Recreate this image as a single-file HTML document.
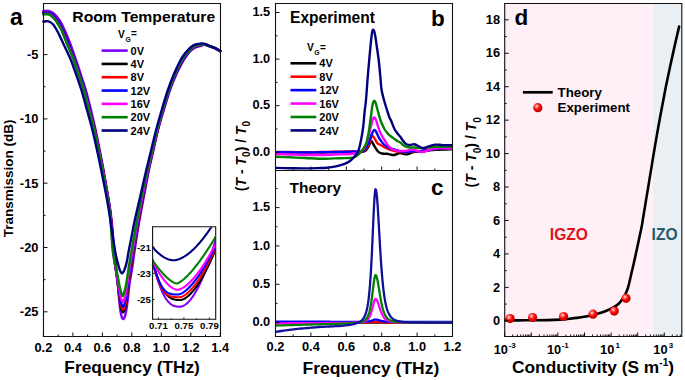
<!DOCTYPE html>
<html><head><meta charset="utf-8"><style>
html,body{margin:0;padding:0;background:#fff;width:685px;height:380px;overflow:hidden}
svg{display:block}
text{font-family:"Liberation Sans",sans-serif;font-weight:bold}
</style></head><body>
<svg width="685" height="380" viewBox="0 0 685 380">
<rect width="685" height="380" fill="#fff"/>
<g>
<path d="M43.4,11.2 C43.83,11.13 44.9,10.77 46,10.8 C47.1,10.83 48.5,10.78 50,11.4 C51.5,12.02 53.33,12.9 55,14.5 C56.67,16.1 58.4,18.42 60,21 C61.6,23.58 62.93,26.33 64.6,30 C66.27,33.67 68.1,38 70,43 C71.9,48 74.17,54.67 76,60 C77.83,65.33 79.37,70 81,75 C82.63,80 84.13,84.17 85.8,90 C87.47,95.83 89.37,103.33 91,110 C92.63,116.67 94.15,123.33 95.6,130 C97.05,136.67 98.38,143.33 99.7,150 C101.02,156.67 102.28,163.33 103.5,170 C104.72,176.67 105.87,183.33 107,190 C108.13,196.67 109.38,203.33 110.3,210 C111.22,216.67 111.85,223.33 112.5,230 C113.15,236.67 113.65,244.17 114.2,250 C114.75,255.83 115.35,260.83 115.8,265 C116.25,269.17 116.57,272 116.9,275 C117.23,278 117.46,279.33 117.8,283 C118.14,286.67 118.56,292.73 118.94,297 C119.32,301.27 119.71,305.57 120.1,308.6 C120.48,311.63 120.87,313.58 121.25,315.2 C121.63,316.82 122.03,317.68 122.4,318.3 C122.78,318.92 123.12,319.12 123.5,318.9 C123.88,318.68 124.3,318.07 124.7,317 C125.1,315.93 125.52,314.42 125.9,312.5 C126.28,310.58 126.62,308.23 127,305.5 C127.38,302.77 127.82,299.43 128.2,296.1 C128.58,292.77 128.62,290.35 129.3,285.5 C129.98,280.65 131.4,272.92 132.3,267 C133.2,261.08 133.78,256.17 134.7,250 C135.62,243.83 136.7,236.67 137.8,230 C138.9,223.33 140.08,216.67 141.3,210 C142.52,203.33 143.83,196.67 145.1,190 C146.37,183.33 147.5,176.67 148.9,170 C150.3,163.33 151.98,156.67 153.5,150 C155.02,143.33 156.28,136.67 158,130 C159.72,123.33 161.8,116.67 163.8,110 C165.8,103.33 167.88,96 170,90 C172.12,84 174.25,78.92 176.5,74 C178.75,69.08 181.78,63.58 183.5,60.5 C185.22,57.42 185.72,57 186.8,55.5 C187.88,54 188.88,52.67 190,51.5 C191.12,50.33 192.33,49.28 193.5,48.5 C194.67,47.72 195.92,47.22 197,46.8 C198.08,46.38 199.05,46.3 200,46 C200.95,45.7 201.7,45.17 202.7,45 C203.7,44.83 204.85,44.78 206,45 C207.15,45.22 208.12,45.75 209.6,46.3 C211.08,46.85 213.12,47.47 214.9,48.3 C216.68,49.13 219.4,50.8 220.3,51.3" fill="none" stroke="#8000ff" stroke-width="2.4" stroke-linejoin="round" stroke-linecap="round" />
<path d="M43.4,12.69 L44.44,12.5 L45.48,12.36 L46.53,12.34 L47.58,12.39 L48.62,12.55 L49.63,12.85 L50.59,13.29 L51.5,13.81 L52.37,14.4 L53.19,15.05 L53.97,15.75 L54.71,16.5 L55.42,17.29 L56.09,18.09 L56.74,18.92 L57.37,19.77 L57.97,20.63 L58.56,21.51 L59.13,22.4 L59.68,23.29 L60.21,24.2 L60.72,25.12 L61.22,26.05 L61.69,26.99 L62.15,27.94 L62.6,28.89 L63.04,29.85 L63.47,30.81 L63.89,31.78 L64.31,32.75 L64.72,33.72 L65.13,34.69 L65.53,35.66 L65.93,36.64 L66.33,37.61 L66.72,38.59 L67.11,39.57 L67.5,40.55 L67.89,41.53 L68.28,42.5 L68.67,43.48 L69.05,44.46 L69.44,45.44 L69.82,46.43 L70.2,47.41 L70.58,48.39 L70.97,49.37 L71.34,50.35 L71.72,51.34 L72.1,52.32 L72.47,53.3 L72.84,54.29 L73.21,55.27 L73.58,56.26 L73.95,57.25 L74.32,58.24 L74.68,59.23 L75.04,60.22 L75.39,61.21 L75.74,62.2 L76.09,63.19 L76.44,64.19 L76.78,65.19 L77.11,66.19 L77.45,67.18 L77.78,68.18 L78.11,69.18 L78.44,70.18 L78.77,71.19 L79.1,72.19 L79.43,73.19 L79.76,74.19 L80.09,75.19 L80.42,76.19 L80.75,77.19 L81.09,78.19 L81.42,79.19 L81.76,80.19 L82.1,81.19 L82.43,82.19 L82.76,83.2 L83.09,84.2 L83.41,85.21 L83.73,86.22 L84.04,87.23 L84.35,88.25 L84.65,89.26 L84.95,90.28 L85.24,91.3 L85.53,92.32 L85.82,93.34 L86.1,94.36 L86.38,95.39 L86.66,96.41 L86.93,97.44 L87.2,98.46 L87.47,99.49 L87.74,100.52 L88.01,101.55 L88.27,102.58 L88.54,103.61 L88.8,104.64 L89.06,105.67 L89.33,106.7 L89.59,107.73 L89.85,108.76 L90.11,109.79 L90.37,110.83 L90.62,111.86 L90.88,112.89 L91.14,113.93 L91.4,114.96 L91.65,116 L91.91,117.03 L92.16,118.07 L92.42,119.1 L92.67,120.14 L92.92,121.18 L93.17,122.21 L93.42,123.25 L93.67,124.29 L93.92,125.33 L94.17,126.37 L94.41,127.41 L94.65,128.45 L94.9,129.49 L95.13,130.53 L95.37,131.58 L95.61,132.62 L95.84,133.67 L96.07,134.71 L96.3,135.76 L96.52,136.8 L96.75,137.85 L96.97,138.9 L97.19,139.95 L97.41,141 L97.63,142.05 L97.85,143.1 L98.06,144.15 L98.28,145.2 L98.49,146.25 L98.71,147.3 L98.92,148.36 L99.13,149.41 L99.34,150.46 L99.55,151.52 L99.76,152.57 L99.97,153.62 L100.18,154.68 L100.39,155.73 L100.6,156.79 L100.81,157.85 L101.01,158.9 L101.22,159.96 L101.43,161.02 L101.63,162.07 L101.83,163.13 L102.04,164.19 L102.24,165.25 L102.44,166.31 L102.64,167.37 L102.84,168.43 L103.04,169.49 L103.24,170.55 L103.43,171.61 L103.63,172.67 L103.82,173.73 L104.02,174.8 L104.21,175.86 L104.41,176.92 L104.6,177.99 L104.79,179.05 L104.98,180.12 L105.17,181.18 L105.36,182.25 L105.55,183.31 L105.74,184.38 L105.93,185.44 L106.12,186.51 L106.31,187.58 L106.49,188.64 L106.68,189.71 L106.87,190.78 L107.06,191.84 L107.25,192.91 L107.44,193.98 L107.63,195.05 L107.82,196.12 L108,197.19 L108.19,198.26 L108.37,199.33 L108.55,200.4 L108.72,201.47 L108.9,202.55 L109.07,203.6 L109.23,204.66 L109.39,205.72 L109.55,206.77 L109.7,207.83 L109.85,208.89 L109.99,209.95 L110.14,211 L110.27,212.06 L110.41,213.12 L110.54,214.18 L110.67,215.24 L110.8,216.3 L110.92,217.36 L111.04,218.43 L111.16,219.49 L111.27,220.55 L111.38,221.61 L111.49,222.67 L111.6,223.74 L111.7,224.8 L111.81,225.86 L111.91,226.93 L112,227.99 L112.1,229.06 L112.19,230.12 L112.28,231.18 L112.36,232.25 L112.45,233.31 L112.53,234.38 L112.62,235.44 L112.7,236.51 L112.78,237.57 L112.86,238.64 L112.95,239.7 L113.03,240.77 L113.12,241.83 L113.21,242.9 L113.3,243.96 L113.39,245.03 L113.48,246.09 L113.58,247.16 L113.67,248.22 L113.77,249.28 L113.87,250.35 L113.97,251.41 L114.07,252.47 L114.18,253.54 L114.28,254.6 L114.39,255.66 L114.49,256.73 L114.6,257.79 L114.7,258.85 L114.81,259.91 L114.92,260.98 L115.03,262.04 L115.14,263.1 L115.26,264.16 L115.38,265.22 L115.5,266.29 L115.63,267.35 L115.76,268.41 L115.9,269.46 L116.05,270.52 L116.2,271.58 L116.36,272.63 L116.51,273.69 L116.65,274.75 L116.79,275.81 L116.93,276.87 L117.06,277.92 L117.19,278.98 L117.32,280.04 L117.45,281.1 L117.57,282.16 L117.69,283.22 L117.81,284.28 L117.93,285.34 L118.05,286.4 L118.17,287.46 L118.29,288.52 L118.41,289.58 L118.54,290.64 L118.66,291.7 L118.79,292.76 L118.91,293.82 L119.03,294.88 L119.15,295.94 L119.28,297 L119.41,298.06 L119.55,299.12 L119.69,300.17 L119.83,301.23 L119.99,302.29 L120.16,303.34 L120.34,304.39 L120.53,305.45 L120.73,306.49 L120.96,307.54 L121.21,308.57 L121.51,309.6 L121.86,310.61 L122.31,311.58 L123.04,312.29 L123.79,311.67 L124.24,310.76 L124.59,309.8 L124.89,308.83 L125.16,307.84 L125.41,306.85 L125.64,305.86 L125.85,304.86 L126.05,303.86 L126.22,302.85 L126.39,301.84 L126.54,300.83 L126.69,299.82 L126.84,298.81 L126.99,297.8 L127.13,296.79 L127.27,295.78 L127.41,294.76 L127.54,293.75 L127.68,292.74 L127.81,291.72 L127.94,290.71 L128.06,289.7 L128.18,288.68 L128.29,287.67 L128.39,286.65 L128.5,285.63 L128.61,284.62 L128.72,283.6 L128.84,282.59 L128.97,281.58 L129.11,280.56 L129.25,279.55 L129.41,278.54 L129.56,277.53 L129.72,276.52 L129.89,275.52 L130.05,274.51 L130.22,273.5 L130.39,272.49 L130.56,271.48 L130.73,270.48 L130.9,269.47 L131.07,268.46 L131.24,267.46 L131.41,266.45 L131.58,265.44 L131.75,264.43 L131.92,263.42 L132.08,262.42 L132.24,261.41 L132.4,260.4 L132.56,259.39 L132.72,258.38 L132.87,257.37 L133.02,256.36 L133.17,255.35 L133.32,254.34 L133.47,253.33 L133.62,252.32 L133.77,251.31 L133.93,250.3 L134.08,249.29 L134.23,248.28 L134.38,247.27 L134.54,246.26 L134.7,245.25 L134.86,244.24 L135.02,243.23 L135.18,242.22 L135.34,241.21 L135.5,240.2 L135.66,239.19 L135.82,238.19 L135.98,237.18 L136.14,236.17 L136.3,235.16 L136.47,234.15 L136.63,233.14 L136.8,232.13 L136.96,231.13 L137.13,230.12 L137.3,229.11 L137.47,228.1 L137.64,227.1 L137.81,226.09 L137.98,225.08 L138.15,224.07 L138.33,223.07 L138.5,222.06 L138.68,221.06 L138.86,220.05 L139.04,219.04 L139.22,218.04 L139.4,217.03 L139.58,216.03 L139.76,215.02 L139.94,214.02 L140.13,213.01 L140.31,212.01 L140.5,211 L140.68,210 L140.87,208.99 L141.06,207.99 L141.24,206.98 L141.43,205.98 L141.62,204.98 L141.81,203.97 L142.01,202.96 L142.2,201.94 L142.39,200.92 L142.59,199.9 L142.79,198.87 L142.99,197.85 L143.18,196.83 L143.38,195.81 L143.58,194.79 L143.78,193.77 L143.98,192.75 L144.18,191.73 L144.39,190.71 L144.59,189.69 L144.79,188.67 L144.99,187.65 L145.19,186.63 L145.39,185.61 L145.59,184.59 L145.79,183.58 L145.99,182.56 L146.19,181.54 L146.39,180.52 L146.59,179.5 L146.79,178.49 L146.99,177.47 L147.19,176.45 L147.4,175.44 L147.6,174.42 L147.81,173.4 L148.02,172.39 L148.23,171.38 L148.44,170.36 L148.65,169.35 L148.87,168.34 L149.09,167.33 L149.31,166.32 L149.53,165.3 L149.76,164.3 L149.98,163.29 L150.21,162.28 L150.45,161.27 L150.68,160.26 L150.91,159.26 L151.15,158.25 L151.38,157.24 L151.62,156.24 L151.85,155.23 L152.09,154.23 L152.32,153.22 L152.56,152.22 L152.79,151.21 L153.02,150.21 L153.25,149.2 L153.48,148.19 L153.71,147.19 L153.94,146.18 L154.17,145.18 L154.4,144.17 L154.62,143.17 L154.84,142.16 L155.07,141.16 L155.29,140.15 L155.52,139.14 L155.74,138.14 L155.97,137.14 L156.2,136.13 L156.43,135.13 L156.67,134.13 L156.9,133.13 L157.14,132.13 L157.38,131.13 L157.63,130.13 L157.88,129.13 L158.13,128.14 L158.39,127.14 L158.65,126.15 L158.92,125.16 L159.19,124.17 L159.46,123.17 L159.73,122.19 L160.01,121.2 L160.29,120.21 L160.57,119.22 L160.86,118.24 L161.15,117.25 L161.43,116.27 L161.72,115.29 L162.01,114.3 L162.31,113.32 L162.6,112.34 L162.89,111.36 L163.18,110.37 L163.48,109.39 L163.77,108.41 L164.06,107.43 L164.36,106.45 L164.65,105.47 L164.94,104.49 L165.24,103.51 L165.53,102.53 L165.83,101.55 L166.12,100.57 L166.42,99.59 L166.72,98.62 L167.02,97.64 L167.32,96.66 L167.63,95.69 L167.94,94.72 L168.25,93.74 L168.57,92.77 L168.89,91.81 L169.22,90.84 L169.55,89.87 L169.88,88.91 L170.22,87.95 L170.56,86.99 L170.92,86.03 L171.27,85.07 L171.63,84.12 L171.99,83.17 L172.36,82.22 L172.74,81.27 L173.12,80.33 L173.5,79.39 L173.89,78.46 L174.28,77.53 L174.68,76.6 L175.08,75.67 L175.49,74.75 L175.9,73.82 L176.32,72.9 L176.74,71.98 L177.16,71.07 L177.6,70.16 L178.03,69.24 L178.48,68.34 L178.93,67.43 L179.39,66.53 L179.85,65.63 L180.31,64.73 L180.78,63.84 L181.26,62.95 L181.74,62.06 L182.24,61.18 L182.75,60.31 L183.28,59.45 L183.83,58.61 L184.38,57.76 L184.94,56.93 L185.52,56.1 L186.14,55.3 L186.78,54.52 L187.42,53.75 L188.07,52.97 L188.72,52.2 L189.38,51.44 L190.06,50.69 L190.77,49.97 L191.51,49.29 L192.29,48.65 L193.11,48.06 L193.96,47.52 L194.84,47.04 L195.76,46.62 L196.7,46.27 L197.66,45.98 L198.64,45.74 L199.63,45.51 L200.61,45.27 L201.57,44.99 L202.54,44.75 L203.53,44.65 L204.53,44.66 L205.53,44.77 L206.51,45 L207.46,45.33 L208.39,45.72 L209.32,46.1 L210.27,46.45 L211.23,46.78 L212.19,47.1 L213.14,47.44 L214.08,47.81 L215,48.22 L215.91,48.67 L216.8,49.15 L217.68,49.64 L218.55,50.15 L219.43,50.66 L220.3,51.16" fill="none" stroke="#000000" stroke-width="2.4" stroke-linejoin="round" stroke-linecap="round" />
<path d="M43.4,12.85 L44.43,12.67 L45.47,12.53 L46.52,12.5 L47.57,12.55 L48.6,12.71 L49.6,13.02 L50.56,13.46 L51.46,13.98 L52.32,14.57 L53.14,15.23 L53.91,15.94 L54.64,16.69 L55.34,17.47 L56.01,18.27 L56.66,19.09 L57.28,19.94 L57.88,20.8 L58.46,21.67 L59.03,22.56 L59.58,23.45 L60.11,24.35 L60.62,25.27 L61.12,26.19 L61.59,27.13 L62.05,28.07 L62.5,29.02 L62.93,29.98 L63.36,30.94 L63.78,31.9 L64.19,32.86 L64.6,33.83 L65,34.79 L65.4,35.76 L65.8,36.74 L66.19,37.71 L66.59,38.68 L66.97,39.65 L67.36,40.63 L67.75,41.6 L68.14,42.58 L68.52,43.55 L68.91,44.53 L69.3,45.5 L69.68,46.48 L70.06,47.46 L70.45,48.43 L70.83,49.41 L71.21,50.39 L71.59,51.36 L71.96,52.34 L72.34,53.32 L72.71,54.3 L73.09,55.28 L73.46,56.26 L73.83,57.24 L74.19,58.22 L74.55,59.21 L74.92,60.19 L75.27,61.18 L75.62,62.17 L75.97,63.16 L76.31,64.15 L76.65,65.14 L76.99,66.13 L77.32,67.13 L77.65,68.12 L77.98,69.12 L78.31,70.12 L78.64,71.11 L78.96,72.11 L79.29,73.11 L79.62,74.1 L79.95,75.1 L80.28,76.09 L80.61,77.09 L80.95,78.08 L81.28,79.08 L81.61,80.07 L81.95,81.07 L82.28,82.07 L82.61,83.07 L82.93,84.07 L83.25,85.07 L83.57,86.07 L83.88,87.08 L84.19,88.08 L84.49,89.09 L84.78,90.1 L85.07,91.11 L85.36,92.13 L85.64,93.14 L85.92,94.16 L86.2,95.17 L86.47,96.19 L86.75,97.21 L87.02,98.23 L87.28,99.25 L87.55,100.27 L87.81,101.29 L88.07,102.31 L88.34,103.33 L88.6,104.35 L88.86,105.37 L89.12,106.39 L89.37,107.42 L89.63,108.44 L89.89,109.46 L90.15,110.49 L90.4,111.51 L90.66,112.53 L90.91,113.56 L91.17,114.58 L91.42,115.61 L91.68,116.63 L91.93,117.66 L92.18,118.68 L92.44,119.71 L92.69,120.74 L92.94,121.76 L93.19,122.79 L93.44,123.82 L93.69,124.84 L93.93,125.87 L94.18,126.9 L94.42,127.93 L94.66,128.96 L94.9,129.99 L95.13,131.02 L95.37,132.05 L95.6,133.09 L95.83,134.12 L96.06,135.15 L96.28,136.19 L96.5,137.22 L96.73,138.26 L96.95,139.29 L97.16,140.33 L97.38,141.37 L97.59,142.41 L97.81,143.44 L98.02,144.48 L98.23,145.52 L98.45,146.56 L98.66,147.6 L98.87,148.64 L99.08,149.68 L99.28,150.72 L99.49,151.76 L99.7,152.8 L99.91,153.84 L100.11,154.88 L100.32,155.92 L100.53,156.96 L100.73,158.01 L100.93,159.05 L101.14,160.09 L101.34,161.13 L101.54,162.18 L101.74,163.22 L101.94,164.26 L102.14,165.31 L102.34,166.35 L102.54,167.4 L102.74,168.44 L102.93,169.49 L103.13,170.53 L103.32,171.58 L103.52,172.62 L103.71,173.67 L103.9,174.72 L104.09,175.76 L104.28,176.81 L104.47,177.86 L104.66,178.9 L104.85,179.95 L105.04,181 L105.23,182.05 L105.42,183.1 L105.6,184.15 L105.79,185.2 L105.98,186.24 L106.16,187.29 L106.35,188.34 L106.54,189.39 L106.73,190.44 L106.91,191.49 L107.1,192.54 L107.28,193.59 L107.47,194.64 L107.65,195.7 L107.83,196.75 L108.01,197.8 L108.19,198.85 L108.36,199.9 L108.54,200.96 L108.71,202 L108.87,203.05 L109.03,204.09 L109.19,205.14 L109.35,206.18 L109.5,207.23 L109.65,208.27 L109.8,209.32 L109.94,210.37 L110.08,211.42 L110.22,212.46 L110.36,213.51 L110.48,214.56 L110.61,215.61 L110.73,216.66 L110.85,217.71 L110.97,218.76 L111.08,219.81 L111.19,220.86 L111.3,221.92 L111.41,222.97 L111.51,224.02 L111.61,225.07 L111.7,226.13 L111.79,227.18 L111.88,228.23 L111.97,229.29 L112.05,230.34 L112.14,231.39 L112.22,232.45 L112.3,233.5 L112.38,234.56 L112.46,235.61 L112.54,236.67 L112.63,237.72 L112.71,238.77 L112.8,239.83 L112.88,240.88 L112.97,241.93 L113.06,242.99 L113.14,244.04 L113.23,245.09 L113.33,246.15 L113.42,247.2 L113.51,248.25 L113.6,249.31 L113.7,250.36 L113.8,251.41 L113.89,252.46 L113.99,253.52 L114.09,254.57 L114.19,255.62 L114.29,256.67 L114.39,257.73 L114.49,258.78 L114.6,259.83 L114.71,260.88 L114.83,261.93 L114.95,262.98 L115.07,264.03 L115.2,265.08 L115.34,266.13 L115.49,267.17 L115.64,268.22 L115.81,269.26 L115.97,270.31 L116.13,271.35 L116.28,272.4 L116.43,273.44 L116.58,274.49 L116.73,275.53 L116.88,276.58 L117.02,277.62 L117.16,278.67 L117.3,279.71 L117.44,280.76 L117.57,281.81 L117.7,282.85 L117.84,283.9 L117.97,284.95 L118.11,285.99 L118.24,287.04 L118.38,288.09 L118.51,289.13 L118.65,290.18 L118.78,291.23 L118.91,292.28 L119.04,293.33 L119.18,294.37 L119.32,295.42 L119.46,296.47 L119.61,297.51 L119.77,298.56 L119.94,299.6 L120.11,300.64 L120.3,301.68 L120.5,302.72 L120.71,303.75 L120.94,304.79 L121.19,305.81 L121.49,306.83 L121.83,307.83 L122.26,308.79 L122.96,309.52 L123.69,308.9 L124.13,307.99 L124.47,307.04 L124.77,306.07 L125.04,305.09 L125.29,304.11 L125.53,303.13 L125.75,302.14 L125.95,301.15 L126.13,300.15 L126.3,299.15 L126.46,298.15 L126.61,297.15 L126.76,296.15 L126.91,295.15 L127.05,294.14 L127.19,293.14 L127.33,292.14 L127.47,291.13 L127.61,290.13 L127.74,289.12 L127.87,288.12 L128,287.11 L128.12,286.11 L128.23,285.1 L128.34,284.09 L128.45,283.09 L128.57,282.08 L128.69,281.08 L128.81,280.07 L128.95,279.07 L129.09,278.06 L129.24,277.06 L129.39,276.06 L129.55,275.06 L129.71,274.06 L129.87,273.06 L130.04,272.06 L130.21,271.06 L130.37,270.06 L130.54,269.06 L130.71,268.06 L130.88,267.06 L131.05,266.06 L131.22,265.06 L131.39,264.06 L131.56,263.07 L131.73,262.07 L131.9,261.07 L132.06,260.07 L132.22,259.07 L132.39,258.07 L132.55,257.07 L132.7,256.07 L132.86,255.06 L133.02,254.06 L133.17,253.06 L133.33,252.06 L133.48,251.06 L133.63,250.06 L133.79,249.06 L133.94,248.06 L134.1,247.05 L134.25,246.05 L134.41,245.05 L134.57,244.05 L134.73,243.05 L134.89,242.05 L135.05,241.05 L135.22,240.05 L135.38,239.05 L135.54,238.05 L135.7,237.05 L135.87,236.05 L136.03,235.05 L136.2,234.05 L136.36,233.05 L136.53,232.05 L136.69,231.05 L136.86,230.05 L137.03,229.05 L137.19,228.05 L137.36,227.06 L137.53,226.06 L137.71,225.06 L137.88,224.06 L138.05,223.06 L138.23,222.06 L138.4,221.07 L138.58,220.07 L138.76,219.07 L138.94,218.07 L139.12,217.08 L139.3,216.08 L139.48,215.08 L139.66,214.08 L139.84,213.09 L140.03,212.09 L140.21,211.1 L140.4,210.1 L140.58,209.1 L140.77,208.11 L140.96,207.11 L141.14,206.12 L141.33,205.12 L141.52,204.12 L141.71,203.13 L141.91,202.13 L142.1,201.14 L142.29,200.13 L142.49,199.13 L142.68,198.12 L142.88,197.12 L143.08,196.11 L143.28,195.11 L143.48,194.1 L143.68,193.1 L143.88,192.1 L144.08,191.09 L144.28,190.09 L144.48,189.09 L144.68,188.08 L144.89,187.08 L145.09,186.08 L145.29,185.07 L145.5,184.07 L145.7,183.07 L145.9,182.07 L146.1,181.07 L146.3,180.06 L146.51,179.06 L146.71,178.06 L146.91,177.06 L147.11,176.06 L147.32,175.06 L147.53,174.06 L147.73,173.06 L147.94,172.06 L148.16,171.06 L148.37,170.06 L148.58,169.06 L148.8,168.06 L149.02,167.07 L149.24,166.07 L149.46,165.07 L149.68,164.08 L149.91,163.08 L150.14,162.09 L150.37,161.1 L150.6,160.1 L150.83,159.11 L151.06,158.12 L151.3,157.12 L151.53,156.13 L151.76,155.14 L152,154.14 L152.23,153.15 L152.46,152.16 L152.69,151.17 L152.92,150.17 L153.15,149.18 L153.38,148.19 L153.61,147.2 L153.84,146.2 L154.06,145.21 L154.29,144.22 L154.51,143.22 L154.74,142.23 L154.96,141.23 L155.18,140.24 L155.41,139.25 L155.63,138.26 L155.86,137.26 L156.09,136.27 L156.32,135.28 L156.55,134.29 L156.79,133.3 L157.02,132.31 L157.27,131.32 L157.51,130.34 L157.75,129.35 L158,128.36 L158.26,127.38 L158.51,126.4 L158.77,125.41 L159.04,124.43 L159.31,123.45 L159.58,122.47 L159.85,121.49 L160.13,120.52 L160.41,119.54 L160.69,118.56 L160.97,117.59 L161.25,116.61 L161.54,115.64 L161.83,114.66 L162.12,113.69 L162.4,112.72 L162.69,111.75 L162.98,110.77 L163.27,109.8 L163.57,108.83 L163.86,107.86 L164.15,106.88 L164.44,105.91 L164.73,104.94 L165.02,103.97 L165.32,103 L165.61,102.03 L165.9,101.06 L166.2,100.09 L166.49,99.12 L166.79,98.15 L167.09,97.18 L167.4,96.22 L167.7,95.25 L168.01,94.29 L168.32,93.32 L168.64,92.36 L168.96,91.4 L169.29,90.44 L169.62,89.48 L169.95,88.53 L170.29,87.57 L170.63,86.62 L170.98,85.67 L171.34,84.72 L171.7,83.78 L172.06,82.83 L172.43,81.89 L172.8,80.95 L173.18,80.01 L173.56,79.08 L173.95,78.15 L174.34,77.22 L174.73,76.3 L175.14,75.37 L175.54,74.45 L175.95,73.53 L176.37,72.62 L176.79,71.7 L177.22,70.79 L177.65,69.88 L178.08,68.97 L178.53,68.07 L178.98,67.17 L179.43,66.27 L179.89,65.37 L180.35,64.48 L180.82,63.59 L181.3,62.7 L181.78,61.81 L182.28,60.94 L182.79,60.07 L183.32,59.22 L183.87,58.38 L184.43,57.54 L184.99,56.71 L185.58,55.9 L186.2,55.1 L186.84,54.33 L187.49,53.56 L188.14,52.79 L188.79,52.03 L189.45,51.27 L190.13,50.53 L190.84,49.82 L191.58,49.14 L192.36,48.5 L193.18,47.92 L194.03,47.39 L194.92,46.92 L195.83,46.51 L196.78,46.17 L197.74,45.89 L198.72,45.65 L199.7,45.43 L200.68,45.19 L201.64,44.92 L202.6,44.7 L203.59,44.61 L204.59,44.64 L205.59,44.76 L206.56,45 L207.5,45.34 L208.43,45.73 L209.36,46.11 L210.31,46.45 L211.26,46.78 L212.22,47.1 L213.16,47.44 L214.1,47.8 L215.02,48.21 L215.92,48.66 L216.81,49.14 L217.69,49.63 L218.56,50.14 L219.43,50.65 L220.3,51.15" fill="none" stroke="#ff0000" stroke-width="2.4" stroke-linejoin="round" stroke-linecap="round" />
<path d="M43.4,13.02 L44.43,12.84 L45.46,12.71 L46.51,12.67 L47.55,12.72 L48.58,12.88 L49.58,13.19 L50.52,13.63 L51.42,14.15 L52.27,14.75 L53.08,15.41 L53.84,16.12 L54.57,16.87 L55.26,17.65 L55.93,18.45 L56.58,19.27 L57.2,20.11 L57.79,20.97 L58.37,21.84 L58.94,22.71 L59.49,23.6 L60.02,24.5 L60.53,25.41 L61.02,26.34 L61.49,27.27 L61.95,28.21 L62.39,29.15 L62.82,30.1 L63.25,31.06 L63.66,32.01 L64.07,32.97 L64.48,33.94 L64.88,34.9 L65.28,35.87 L65.67,36.83 L66.06,37.8 L66.45,38.77 L66.84,39.74 L67.22,40.71 L67.61,41.68 L68,42.65 L68.38,43.62 L68.77,44.59 L69.15,45.56 L69.54,46.53 L69.92,47.5 L70.31,48.47 L70.69,49.45 L71.07,50.42 L71.45,51.39 L71.83,52.36 L72.21,53.33 L72.59,54.31 L72.96,55.28 L73.33,56.26 L73.7,57.23 L74.07,58.21 L74.43,59.19 L74.79,60.17 L75.15,61.15 L75.5,62.14 L75.84,63.12 L76.19,64.11 L76.53,65.1 L76.86,66.08 L77.2,67.07 L77.53,68.07 L77.85,69.06 L78.18,70.05 L78.51,71.04 L78.83,72.03 L79.16,73.03 L79.48,74.02 L79.81,75.01 L80.14,76 L80.47,76.99 L80.81,77.98 L81.14,78.97 L81.47,79.96 L81.8,80.95 L82.13,81.94 L82.46,82.94 L82.78,83.93 L83.1,84.93 L83.41,85.92 L83.72,86.92 L84.02,87.92 L84.32,88.92 L84.61,89.93 L84.9,90.93 L85.19,91.94 L85.47,92.94 L85.75,93.95 L86.02,94.96 L86.29,95.97 L86.56,96.98 L86.83,97.99 L87.09,99 L87.35,100.01 L87.62,101.03 L87.88,102.04 L88.13,103.05 L88.39,104.06 L88.65,105.08 L88.9,106.09 L89.16,107.11 L89.42,108.12 L89.67,109.13 L89.92,110.15 L90.18,111.16 L90.43,112.18 L90.69,113.19 L90.94,114.21 L91.19,115.22 L91.45,116.24 L91.7,117.25 L91.95,118.26 L92.21,119.28 L92.46,120.3 L92.71,121.31 L92.96,122.33 L93.2,123.34 L93.45,124.36 L93.7,125.38 L93.94,126.39 L94.18,127.41 L94.42,128.43 L94.66,129.45 L94.9,130.47 L95.13,131.49 L95.36,132.51 L95.59,133.53 L95.82,134.55 L96.04,135.57 L96.26,136.6 L96.48,137.62 L96.7,138.64 L96.92,139.67 L97.13,140.69 L97.34,141.72 L97.56,142.74 L97.77,143.77 L97.98,144.79 L98.19,145.82 L98.39,146.84 L98.6,147.87 L98.81,148.9 L99.01,149.92 L99.22,150.95 L99.43,151.98 L99.63,153 L99.84,154.03 L100.04,155.06 L100.24,156.08 L100.45,157.11 L100.65,158.14 L100.85,159.17 L101.05,160.19 L101.25,161.22 L101.45,162.25 L101.65,163.28 L101.85,164.31 L102.04,165.34 L102.24,166.36 L102.44,167.39 L102.63,168.42 L102.82,169.45 L103.02,170.48 L103.21,171.51 L103.4,172.54 L103.59,173.57 L103.78,174.6 L103.97,175.63 L104.16,176.66 L104.35,177.69 L104.53,178.73 L104.72,179.76 L104.91,180.79 L105.09,181.82 L105.28,182.85 L105.46,183.88 L105.65,184.91 L105.83,185.95 L106.02,186.98 L106.2,188.01 L106.39,189.04 L106.57,190.07 L106.75,191.1 L106.94,192.14 L107.12,193.17 L107.3,194.2 L107.48,195.24 L107.65,196.27 L107.83,197.3 L108,198.34 L108.17,199.37 L108.35,200.4 L108.51,201.44 L108.68,202.47 L108.84,203.5 L109,204.54 L109.16,205.57 L109.31,206.6 L109.47,207.64 L109.61,208.67 L109.76,209.71 L109.9,210.75 L110.04,211.78 L110.17,212.82 L110.3,213.86 L110.43,214.9 L110.55,215.94 L110.67,216.97 L110.78,218.01 L110.9,219.05 L111,220.1 L111.11,221.14 L111.21,222.18 L111.31,223.22 L111.4,224.26 L111.49,225.3 L111.58,226.35 L111.66,227.39 L111.75,228.43 L111.83,229.47 L111.91,230.52 L111.99,231.56 L112.07,232.6 L112.15,233.65 L112.23,234.69 L112.31,235.73 L112.39,236.78 L112.47,237.82 L112.55,238.86 L112.64,239.91 L112.72,240.95 L112.81,241.99 L112.89,243.03 L112.98,244.08 L113.06,245.12 L113.15,246.16 L113.24,247.2 L113.33,248.25 L113.41,249.29 L113.51,250.33 L113.6,251.37 L113.69,252.41 L113.78,253.45 L113.88,254.5 L113.97,255.54 L114.07,256.58 L114.17,257.62 L114.28,258.66 L114.4,259.7 L114.51,260.74 L114.64,261.78 L114.78,262.82 L114.92,263.85 L115.08,264.89 L115.24,265.92 L115.41,266.95 L115.58,267.98 L115.75,269.01 L115.91,270.05 L116.07,271.08 L116.23,272.11 L116.4,273.14 L116.56,274.17 L116.72,275.2 L116.88,276.23 L117.03,277.27 L117.18,278.3 L117.33,279.33 L117.48,280.37 L117.63,281.4 L117.77,282.43 L117.92,283.47 L118.07,284.5 L118.22,285.54 L118.37,286.57 L118.51,287.61 L118.65,288.64 L118.79,289.68 L118.93,290.71 L119.07,291.75 L119.22,292.78 L119.38,293.82 L119.54,294.85 L119.71,295.88 L119.88,296.91 L120.07,297.94 L120.26,298.97 L120.46,299.99 L120.68,301.02 L120.91,302.04 L121.17,303.05 L121.47,304.05 L121.81,305.04 L122.22,306 L122.88,306.76 L123.6,306.13 L124.02,305.22 L124.35,304.28 L124.65,303.31 L124.92,302.35 L125.18,301.38 L125.42,300.4 L125.65,299.43 L125.86,298.44 L126.04,297.45 L126.21,296.46 L126.38,295.47 L126.53,294.48 L126.68,293.49 L126.83,292.49 L126.97,291.5 L127.12,290.5 L127.26,289.51 L127.4,288.51 L127.53,287.52 L127.67,286.52 L127.8,285.53 L127.93,284.53 L128.06,283.53 L128.18,282.54 L128.29,281.54 L128.41,280.54 L128.53,279.54 L128.66,278.55 L128.79,277.55 L128.93,276.56 L129.07,275.56 L129.22,274.57 L129.38,273.57 L129.53,272.58 L129.7,271.59 L129.86,270.6 L130.03,269.61 L130.19,268.62 L130.36,267.63 L130.53,266.63 L130.7,265.64 L130.86,264.65 L131.03,263.66 L131.2,262.67 L131.37,261.68 L131.54,260.69 L131.71,259.7 L131.87,258.71 L132.04,257.72 L132.21,256.73 L132.37,255.74 L132.53,254.74 L132.69,253.75 L132.85,252.76 L133.01,251.77 L133.17,250.78 L133.33,249.78 L133.48,248.79 L133.64,247.8 L133.8,246.81 L133.96,245.81 L134.12,244.82 L134.28,243.83 L134.44,242.84 L134.6,241.85 L134.76,240.86 L134.93,239.86 L135.09,238.87 L135.26,237.88 L135.42,236.89 L135.59,235.9 L135.75,234.91 L135.92,233.92 L136.08,232.93 L136.25,231.93 L136.42,230.94 L136.58,229.95 L136.75,228.96 L136.92,227.97 L137.09,226.98 L137.26,225.99 L137.43,225 L137.6,224.01 L137.77,223.02 L137.95,222.03 L138.12,221.04 L138.3,220.05 L138.48,219.06 L138.65,218.07 L138.83,217.09 L139.01,216.1 L139.19,215.11 L139.38,214.12 L139.56,213.13 L139.74,212.14 L139.92,211.16 L140.11,210.17 L140.29,209.18 L140.48,208.19 L140.67,207.2 L140.85,206.22 L141.04,205.23 L141.23,204.24 L141.42,203.26 L141.61,202.27 L141.8,201.28 L142,200.3 L142.19,199.31 L142.39,198.32 L142.58,197.33 L142.78,196.35 L142.98,195.36 L143.17,194.37 L143.37,193.38 L143.57,192.4 L143.77,191.41 L143.97,190.42 L144.18,189.44 L144.38,188.45 L144.58,187.46 L144.78,186.48 L144.99,185.49 L145.19,184.5 L145.39,183.52 L145.6,182.53 L145.8,181.55 L146.01,180.56 L146.21,179.57 L146.41,178.59 L146.62,177.6 L146.82,176.62 L147.03,175.63 L147.24,174.65 L147.44,173.66 L147.65,172.68 L147.87,171.69 L148.08,170.71 L148.29,169.73 L148.51,168.74 L148.73,167.76 L148.94,166.78 L149.16,165.8 L149.39,164.82 L149.61,163.83 L149.84,162.85 L150.06,161.87 L150.29,160.89 L150.52,159.91 L150.75,158.93 L150.99,157.95 L151.22,156.97 L151.45,156 L151.68,155.02 L151.91,154.04 L152.14,153.06 L152.37,152.08 L152.6,151.1 L152.83,150.12 L153.05,149.14 L153.28,148.16 L153.51,147.18 L153.73,146.2 L153.96,145.21 L154.18,144.23 L154.41,143.25 L154.63,142.27 L154.85,141.29 L155.07,140.31 L155.3,139.33 L155.52,138.35 L155.75,137.37 L155.98,136.39 L156.2,135.41 L156.43,134.43 L156.67,133.45 L156.91,132.47 L157.14,131.5 L157.39,130.52 L157.63,129.55 L157.88,128.57 L158.13,127.6 L158.38,126.62 L158.64,125.65 L158.9,124.68 L159.16,123.71 L159.43,122.74 L159.7,121.77 L159.97,120.8 L160.24,119.84 L160.52,118.87 L160.8,117.9 L161.08,116.94 L161.36,115.97 L161.64,115.01 L161.93,114.04 L162.22,113.08 L162.5,112.12 L162.79,111.15 L163.08,110.19 L163.36,109.23 L163.65,108.26 L163.94,107.3 L164.23,106.34 L164.52,105.38 L164.81,104.41 L165.1,103.45 L165.39,102.49 L165.68,101.53 L165.98,100.57 L166.27,99.6 L166.57,98.64 L166.86,97.68 L167.17,96.73 L167.47,95.77 L167.77,94.81 L168.08,93.85 L168.39,92.9 L168.71,91.95 L169.03,90.99 L169.36,90.04 L169.68,89.09 L170.02,88.14 L170.36,87.2 L170.7,86.25 L171.05,85.31 L171.4,84.37 L171.76,83.43 L172.12,82.5 L172.49,81.56 L172.86,80.63 L173.24,79.7 L173.62,78.77 L174.01,77.84 L174.4,76.92 L174.79,76 L175.19,75.08 L175.6,74.16 L176.01,73.24 L176.42,72.33 L176.84,71.42 L177.27,70.51 L177.7,69.6 L178.13,68.7 L178.58,67.8 L179.02,66.9 L179.48,66 L179.93,65.11 L180.39,64.22 L180.86,63.33 L181.34,62.45 L181.82,61.57 L182.31,60.69 L182.83,59.83 L183.37,58.99 L183.92,58.15 L184.48,57.32 L185.05,56.5 L185.64,55.69 L186.26,54.9 L186.9,54.14 L187.55,53.37 L188.2,52.61 L188.86,51.85 L189.52,51.1 L190.2,50.37 L190.91,49.66 L191.65,48.99 L192.44,48.36 L193.26,47.79 L194.11,47.27 L195,46.8 L195.91,46.4 L196.85,46.07 L197.82,45.8 L198.79,45.57 L199.77,45.34 L200.74,45.11 L201.71,44.85 L202.67,44.65 L203.66,44.58 L204.66,44.62 L205.64,44.75 L206.61,45 L207.55,45.34 L208.47,45.73 L209.4,46.11 L210.34,46.45 L211.29,46.78 L212.24,47.1 L213.19,47.43 L214.12,47.8 L215.04,48.2 L215.94,48.65 L216.82,49.13 L217.7,49.62 L218.57,50.13 L219.43,50.63 L220.3,51.13" fill="none" stroke="#0000ff" stroke-width="2.4" stroke-linejoin="round" stroke-linecap="round" />
<path d="M43.4,14.17 L44.4,14.03 L45.41,13.92 L46.42,13.85 L47.43,13.9 L48.43,14.06 L49.39,14.35 L50.3,14.8 L51.15,15.35 L51.93,15.98 L52.67,16.67 L53.38,17.4 L54.06,18.14 L54.72,18.91 L55.37,19.69 L55.99,20.49 L56.59,21.31 L57.16,22.14 L57.72,22.98 L58.28,23.83 L58.81,24.69 L59.33,25.55 L59.84,26.43 L60.32,27.32 L60.78,28.23 L61.22,29.14 L61.65,30.05 L62.07,30.97 L62.47,31.9 L62.86,32.84 L63.25,33.77 L63.63,34.71 L64.01,35.65 L64.38,36.59 L64.76,37.53 L65.13,38.47 L65.5,39.41 L65.87,40.35 L66.25,41.29 L66.62,42.23 L67.01,43.17 L67.39,44.11 L67.77,45.04 L68.16,45.98 L68.55,46.91 L68.94,47.84 L69.34,48.78 L69.73,49.71 L70.12,50.64 L70.51,51.57 L70.91,52.51 L71.29,53.44 L71.68,54.38 L72.07,55.31 L72.45,56.25 L72.83,57.19 L73.2,58.13 L73.57,59.07 L73.93,60.02 L74.29,60.96 L74.64,61.91 L74.98,62.87 L75.32,63.82 L75.65,64.77 L75.98,65.73 L76.31,66.69 L76.63,67.65 L76.95,68.61 L77.26,69.57 L77.58,70.54 L77.89,71.5 L78.21,72.46 L78.52,73.42 L78.84,74.38 L79.17,75.34 L79.49,76.3 L79.81,77.26 L80.14,78.22 L80.46,79.18 L80.79,80.14 L81.11,81.1 L81.44,82.07 L81.75,83.03 L82.07,84 L82.39,84.97 L82.7,85.94 L83,86.91 L83.3,87.88 L83.6,88.86 L83.89,89.83 L84.17,90.81 L84.46,91.79 L84.73,92.77 L85.01,93.76 L85.28,94.74 L85.55,95.73 L85.81,96.71 L86.08,97.7 L86.34,98.69 L86.6,99.67 L86.86,100.66 L87.11,101.65 L87.37,102.64 L87.63,103.63 L87.88,104.62 L88.14,105.61 L88.4,106.6 L88.65,107.59 L88.91,108.59 L89.17,109.58 L89.43,110.57 L89.69,111.56 L89.95,112.55 L90.21,113.54 L90.47,114.54 L90.73,115.53 L90.99,116.52 L91.25,117.51 L91.51,118.51 L91.77,119.5 L92.03,120.49 L92.29,121.49 L92.54,122.48 L92.8,123.48 L93.05,124.48 L93.31,125.47 L93.56,126.47 L93.8,127.47 L94.05,128.47 L94.29,129.47 L94.53,130.47 L94.76,131.48 L94.99,132.48 L95.22,133.48 L95.45,134.49 L95.67,135.5 L95.9,136.5 L96.12,137.51 L96.33,138.52 L96.55,139.53 L96.76,140.54 L96.98,141.55 L97.19,142.56 L97.4,143.57 L97.61,144.59 L97.82,145.6 L98.03,146.61 L98.24,147.63 L98.45,148.64 L98.65,149.65 L98.86,150.67 L99.07,151.68 L99.28,152.7 L99.49,153.71 L99.69,154.73 L99.9,155.74 L100.1,156.76 L100.31,157.78 L100.51,158.79 L100.72,159.81 L100.92,160.83 L101.12,161.85 L101.32,162.87 L101.52,163.89 L101.72,164.91 L101.92,165.93 L102.12,166.95 L102.31,167.97 L102.51,168.99 L102.71,170.01 L102.9,171.03 L103.09,172.06 L103.29,173.08 L103.48,174.1 L103.67,175.13 L103.86,176.15 L104.06,177.18 L104.25,178.2 L104.44,179.23 L104.63,180.25 L104.81,181.28 L105,182.3 L105.19,183.33 L105.38,184.36 L105.57,185.39 L105.75,186.41 L105.94,187.44 L106.13,188.47 L106.31,189.5 L106.49,190.53 L106.67,191.56 L106.85,192.59 L107.03,193.62 L107.21,194.65 L107.39,195.69 L107.57,196.72 L107.75,197.74 L107.92,198.75 L108.09,199.76 L108.26,200.78 L108.42,201.79 L108.59,202.8 L108.75,203.82 L108.91,204.83 L109.06,205.85 L109.21,206.87 L109.36,207.88 L109.51,208.9 L109.65,209.92 L109.79,210.94 L109.92,211.96 L110.05,212.98 L110.17,214 L110.29,215.02 L110.4,216.04 L110.51,217.06 L110.61,218.08 L110.71,219.11 L110.81,220.13 L110.9,221.15 L110.99,222.18 L111.07,223.2 L111.15,224.23 L111.23,225.25 L111.31,226.27 L111.39,227.3 L111.46,228.32 L111.54,229.35 L111.62,230.37 L111.69,231.4 L111.77,232.42 L111.85,233.45 L111.93,234.47 L112.01,235.5 L112.09,236.52 L112.16,237.55 L112.24,238.57 L112.32,239.6 L112.39,240.62 L112.47,241.65 L112.55,242.67 L112.62,243.7 L112.7,244.72 L112.78,245.75 L112.86,246.77 L112.94,247.8 L113.02,248.82 L113.1,249.84 L113.19,250.87 L113.28,251.89 L113.36,252.92 L113.46,253.94 L113.56,254.96 L113.68,255.98 L113.8,257 L113.93,258.02 L114.07,259.04 L114.22,260.06 L114.39,261.07 L114.57,262.08 L114.75,263.09 L114.94,264.1 L115.12,265.11 L115.3,266.13 L115.47,267.14 L115.66,268.15 L115.84,269.16 L116.03,270.16 L116.22,271.17 L116.4,272.18 L116.58,273.19 L116.76,274.2 L116.93,275.21 L117.1,276.23 L117.27,277.24 L117.44,278.25 L117.61,279.26 L117.78,280.27 L117.95,281.29 L118.12,282.3 L118.28,283.31 L118.44,284.33 L118.6,285.34 L118.75,286.36 L118.9,287.37 L119.07,288.39 L119.24,289.4 L119.41,290.41 L119.6,291.42 L119.79,292.43 L119.99,293.44 L120.2,294.44 L120.41,295.45 L120.63,296.45 L120.87,297.45 L121.14,298.44 L121.45,299.42 L121.77,300.4 L122.15,301.35 L122.76,302.14 L123.44,301.51 L123.83,300.61 L124.15,299.67 L124.44,298.72 L124.71,297.77 L124.98,296.81 L125.24,295.86 L125.48,294.9 L125.7,293.93 L125.89,292.96 L126.07,291.98 L126.24,291.01 L126.4,290.03 L126.55,289.05 L126.7,288.07 L126.84,287.09 L126.99,286.11 L127.13,285.13 L127.27,284.15 L127.41,283.17 L127.56,282.19 L127.69,281.21 L127.83,280.23 L127.96,279.24 L128.09,278.26 L128.21,277.28 L128.34,276.3 L128.47,275.31 L128.61,274.33 L128.75,273.35 L128.89,272.37 L129.04,271.39 L129.2,270.41 L129.35,269.44 L129.51,268.46 L129.67,267.48 L129.84,266.5 L130,265.52 L130.17,264.55 L130.33,263.57 L130.5,262.59 L130.67,261.62 L130.83,260.64 L131,259.66 L131.17,258.69 L131.34,257.71 L131.5,256.73 L131.67,255.76 L131.84,254.78 L132.01,253.8 L132.17,252.83 L132.34,251.85 L132.51,250.87 L132.67,249.9 L132.83,248.92 L133,247.94 L133.16,246.96 L133.33,245.99 L133.49,245.01 L133.66,244.03 L133.82,243.06 L133.98,242.08 L134.15,241.1 L134.32,240.12 L134.48,239.15 L134.65,238.17 L134.82,237.19 L134.98,236.22 L135.15,235.24 L135.32,234.27 L135.49,233.29 L135.66,232.31 L135.83,231.34 L136,230.36 L136.17,229.38 L136.34,228.41 L136.51,227.43 L136.68,226.45 L136.85,225.48 L137.02,224.5 L137.19,223.53 L137.37,222.55 L137.54,221.58 L137.71,220.6 L137.89,219.62 L138.07,218.65 L138.24,217.67 L138.42,216.7 L138.6,215.73 L138.78,214.75 L138.96,213.78 L139.14,212.8 L139.33,211.83 L139.51,210.85 L139.69,209.88 L139.88,208.91 L140.06,207.93 L140.25,206.96 L140.43,205.99 L140.62,205.01 L140.81,204.04 L141,203.07 L141.19,202.1 L141.38,201.12 L141.57,200.15 L141.76,199.18 L141.96,198.21 L142.15,197.24 L142.34,196.26 L142.54,195.27 L142.74,194.27 L142.94,193.28 L143.14,192.29 L143.34,191.3 L143.54,190.31 L143.74,189.32 L143.95,188.33 L144.15,187.34 L144.35,186.35 L144.56,185.36 L144.77,184.37 L144.97,183.38 L145.18,182.4 L145.39,181.41 L145.59,180.42 L145.8,179.44 L146.01,178.45 L146.22,177.46 L146.43,176.48 L146.65,175.49 L146.86,174.51 L147.07,173.52 L147.29,172.54 L147.5,171.55 L147.72,170.57 L147.94,169.59 L148.16,168.61 L148.39,167.63 L148.61,166.65 L148.84,165.67 L149.06,164.69 L149.29,163.71 L149.52,162.73 L149.75,161.75 L149.99,160.77 L150.22,159.8 L150.45,158.82 L150.69,157.84 L150.92,156.87 L151.15,155.89 L151.39,154.91 L151.62,153.94 L151.85,152.96 L152.08,151.98 L152.31,151.01 L152.54,150.03 L152.77,149.06 L152.99,148.08 L153.22,147.1 L153.44,146.12 L153.66,145.15 L153.88,144.17 L154.11,143.19 L154.33,142.22 L154.55,141.24 L154.77,140.27 L154.99,139.29 L155.22,138.31 L155.44,137.34 L155.67,136.37 L155.9,135.39 L156.13,134.42 L156.36,133.45 L156.6,132.48 L156.84,131.51 L157.08,130.54 L157.32,129.57 L157.57,128.6 L157.82,127.64 L158.07,126.67 L158.33,125.71 L158.58,124.74 L158.84,123.78 L159.1,122.82 L159.37,121.85 L159.63,120.89 L159.9,119.93 L160.17,118.97 L160.44,118.02 L160.72,117.06 L160.99,116.1 L161.27,115.14 L161.54,114.19 L161.82,113.23 L162.1,112.28 L162.38,111.32 L162.66,110.37 L162.94,109.42 L163.22,108.46 L163.5,107.51 L163.79,106.56 L164.07,105.6 L164.35,104.65 L164.64,103.7 L164.92,102.75 L165.21,101.8 L165.5,100.85 L165.79,99.9 L166.08,98.95 L166.37,98 L166.66,97.05 L166.96,96.11 L167.26,95.16 L167.56,94.22 L167.86,93.27 L168.17,92.33 L168.48,91.39 L168.8,90.45 L169.12,89.52 L169.45,88.58 L169.78,87.65 L170.11,86.72 L170.45,85.79 L170.79,84.86 L171.13,83.93 L171.48,83.01 L171.83,82.08 L172.19,81.16 L172.55,80.24 L172.92,79.33 L173.29,78.41 L173.67,77.5 L174.04,76.59 L174.42,75.69 L174.81,74.79 L175.2,73.89 L175.59,72.99 L175.99,72.1 L176.39,71.21 L176.8,70.32 L177.22,69.43 L177.63,68.55 L178.06,67.66 L178.48,66.78 L178.92,65.9 L179.35,65.03 L179.79,64.15 L180.24,63.28 L180.68,62.41 L181.14,61.54 L181.6,60.68 L182.08,59.82 L182.57,58.98 L183.1,58.15 L183.65,57.35 L184.24,56.56 L184.83,55.78 L185.42,55.01 L186.04,54.24 L186.67,53.5 L187.33,52.78 L188,52.06 L188.67,51.35 L189.34,50.64 L190.02,49.93 L190.71,49.24 L191.42,48.56 L192.16,47.93 L192.95,47.35 L193.78,46.83 L194.65,46.38 L195.54,45.97 L196.45,45.62 L197.39,45.35 L198.35,45.16 L199.31,44.98 L200.26,44.76 L201.22,44.54 L202.18,44.36 L203.15,44.3 L204.12,44.33 L205.09,44.46 L206.04,44.67 L206.96,44.99 L207.86,45.38 L208.76,45.77 L209.66,46.14 L210.59,46.47 L211.52,46.77 L212.44,47.08 L213.37,47.41 L214.28,47.76 L215.17,48.16 L216.05,48.6 L216.91,49.07 L217.76,49.55 L218.61,50.04 L219.45,50.54 L220.3,51.03" fill="none" stroke="#ff00ff" stroke-width="2.4" stroke-linejoin="round" stroke-linecap="round" />
<path d="M43.4,14.5 C44,14.45 45.9,14.12 47,14.2 C48.1,14.28 49,14.45 50,15 C51,15.55 51.83,16.25 53,17.5 C54.17,18.75 55.62,20.42 57,22.5 C58.38,24.58 59.63,26.42 61.3,30 C62.97,33.58 64.93,39 67,44 C69.07,49 71.78,55 73.7,60 C75.62,65 76.83,69 78.5,74 C80.17,79 81.95,84 83.7,90 C85.45,96 87.25,103.33 89,110 C90.75,116.67 92.62,123.33 94.2,130 C95.78,136.67 97.12,143.33 98.5,150 C99.88,156.67 101.22,163.33 102.5,170 C103.78,176.67 105.03,183.33 106.2,190 C107.37,196.67 108.67,203.33 109.5,210 C110.33,216.67 110.68,223.33 111.2,230 C111.72,236.67 112.08,245 112.6,250 C113.12,255 113.73,257.03 114.3,260 C114.87,262.97 115.42,265.03 116,267.8 C116.58,270.57 117.31,274.08 117.8,276.6 C118.29,279.12 118.56,280.95 118.94,282.9 C119.32,284.85 119.71,286.67 120.1,288.3 C120.48,289.93 120.8,291.43 121.25,292.7 C121.7,293.97 122.22,296.23 122.8,295.9 C123.38,295.57 124.18,292.38 124.7,290.7 C125.22,289.02 125.47,288.08 125.9,285.8 C126.33,283.52 126.82,280.13 127.3,277 C127.78,273.87 128.07,271.5 128.8,267 C129.53,262.5 130.62,256.17 131.7,250 C132.78,243.83 134.08,236.67 135.3,230 C136.52,223.33 137.72,216.67 139,210 C140.28,203.33 141.6,196.67 143,190 C144.4,183.33 145.85,176.67 147.4,170 C148.95,163.33 150.7,156.67 152.3,150 C153.9,143.33 155.28,136.67 157,130 C158.72,123.33 160.63,116.67 162.6,110 C164.57,103.33 166.73,96 168.8,90 C170.87,84 172.88,78.92 175,74 C177.12,69.08 179.8,63.67 181.5,60.5 C183.2,57.33 183.98,56.58 185.2,55 C186.42,53.42 187.57,52.27 188.8,51 C190.03,49.73 191.35,48.32 192.6,47.4 C193.85,46.48 195.15,45.93 196.3,45.5 C197.45,45.07 198.43,45.02 199.5,44.8 C200.57,44.58 201.62,44.23 202.7,44.2 C203.78,44.17 204.85,44.28 206,44.6 C207.15,44.92 208.12,45.53 209.6,46.1 C211.08,46.67 213.12,47.18 214.9,48 C216.68,48.82 219.4,50.5 220.3,51" fill="none" stroke="#008000" stroke-width="2.4" stroke-linejoin="round" stroke-linecap="round" />
<path d="M43.4,21.5 C43.92,21.43 45.4,21.02 46.5,21.1 C47.6,21.18 48.92,21.47 50,22 C51.08,22.53 51.88,22.97 53,24.3 C54.12,25.63 55.53,27.97 56.7,30 C57.87,32.03 58.87,34.17 60,36.5 C61.13,38.83 62.33,41.5 63.5,44 C64.67,46.5 65.77,48.83 67,51.5 C68.23,54.17 69.4,56.25 70.9,60 C72.4,63.75 74.25,69 76,74 C77.75,79 79.57,84 81.4,90 C83.23,96 85.17,103.33 87,110 C88.83,116.67 90.73,123.33 92.4,130 C94.07,136.67 95.53,143.33 97,150 C98.47,156.67 99.83,163.33 101.2,170 C102.57,176.67 103.93,183.33 105.2,190 C106.47,196.67 107.7,203.33 108.8,210 C109.9,216.67 110.78,223.33 111.8,230 C112.82,236.67 114.1,245.25 114.9,250 C115.7,254.75 116.12,256.37 116.6,258.5 C117.08,260.63 117.41,261.3 117.8,262.8 C118.19,264.3 118.56,266.18 118.94,267.5 C119.32,268.82 119.71,269.83 120.1,270.7 C120.48,271.57 120.92,272.27 121.25,272.7 C121.58,273.13 121.71,273.47 122.1,273.3 C122.49,273.13 123.17,272.42 123.6,271.7 C124.03,270.98 124.32,270.05 124.7,269 C125.08,267.95 125.52,266.77 125.9,265.4 C126.28,264.03 126.5,263.37 127,260.8 C127.5,258.23 128.15,253.97 128.9,250 C129.65,246.03 130.62,241.5 131.5,237 C132.38,232.5 133.27,227.5 134.2,223 C135.13,218.5 135.85,215.5 137.1,210 C138.35,204.5 140.17,196.67 141.7,190 C143.23,183.33 144.72,176.67 146.3,170 C147.88,163.33 149.57,156.67 151.2,150 C152.83,143.33 154.35,136.67 156.1,130 C157.85,123.33 159.73,116.67 161.7,110 C163.67,103.33 165.85,96 167.9,90 C169.95,84 171.95,78.87 174,74 C176.05,69.13 178.53,64 180.2,60.8 C181.87,57.6 182.75,56.55 184,54.8 C185.25,53.05 186.42,51.68 187.7,50.3 C188.98,48.92 190.38,47.47 191.7,46.5 C193.02,45.53 194.38,44.93 195.6,44.5 C196.82,44.07 197.82,44.08 199,43.9 C200.18,43.72 201.53,43.33 202.7,43.4 C203.87,43.47 204.85,43.88 206,44.3 C207.15,44.72 208.12,45.32 209.6,45.9 C211.08,46.48 213.12,46.98 214.9,47.8 C216.68,48.62 219.4,50.3 220.3,50.8" fill="none" stroke="#000080" stroke-width="2.4" stroke-linejoin="round" stroke-linecap="round" />
</g>
<rect x="152.6" y="226.8" width="63.099999999999994" height="92.5" fill="#fff"/>
<clipPath id="clipI"><rect x="153.1" y="227.3" width="62.099999999999994" height="91.5"/></clipPath>
<g clip-path="url(#clipI)">
<path d="M152.6,260.16 L153.1,262.34 L153.6,264.46 L154.1,266.51 L154.6,268.51 L155.1,270.44 L155.6,272.31 L156.1,274.12 L156.6,275.87 L157.1,277.57 L157.6,279.2 L158.1,280.78 L158.6,282.3 L159.1,283.76 L159.6,285.17 L160.1,286.52 L160.6,287.83 L161.1,289.07 L161.6,290.27 L162.1,291.42 L162.6,292.51 L163.1,293.56 L163.6,294.55 L164.1,295.5 L164.6,296.41 L165.1,297.26 L165.6,298.07 L166.1,298.84 L166.6,299.57 L167.1,300.25 L167.6,300.89 L168.1,301.49 L168.6,302.05 L169.1,302.57 L169.6,303.05 L170.1,303.5 L170.6,303.91 L171.1,304.29 L171.6,304.64 L172.1,304.95 L172.6,305.23 L173.1,305.48 L173.6,305.71 L174.1,305.9 L174.6,306.07 L175.1,306.22 L175.6,306.34 L176.1,306.45 L176.6,306.53 L177.1,306.59 L177.6,306.64 L178.1,306.67 L178.6,306.69 L179.1,306.7 L179.6,306.7 L180.1,306.69 L180.6,306.63 L181.1,306.54 L181.6,306.42 L182.1,306.27 L182.6,306.09 L183.1,305.88 L183.6,305.64 L184.1,305.38 L184.6,305.08 L185.1,304.76 L185.6,304.41 L186.1,304.03 L186.6,303.63 L187.1,303.2 L187.6,302.74 L188.1,302.26 L188.6,301.75 L189.1,301.22 L189.6,300.66 L190.1,300.08 L190.6,299.47 L191.1,298.84 L191.6,298.18 L192.1,297.5 L192.6,296.8 L193.1,296.07 L193.6,295.31 L194.1,294.54 L194.6,293.73 L195.1,292.91 L195.6,292.06 L196.1,291.19 L196.6,290.29 L197.1,289.37 L197.6,288.43 L198.1,287.46 L198.6,286.47 L199.1,285.46 L199.6,284.43 L200.1,283.37 L200.6,282.29 L201.1,281.19 L201.6,280.06 L202.1,278.91 L202.6,277.74 L203.1,276.55 L203.6,275.33 L204.1,274.09 L204.6,272.83 L205.1,271.55 L205.6,270.24 L206.1,268.91 L206.6,267.57 L207.1,266.19 L207.6,264.8 L208.1,263.39 L208.6,261.95 L209.1,260.49 L209.6,259.01 L210.1,257.51 L210.6,255.98 L211.1,254.44 L211.6,252.87 L212.1,251.28 L212.6,249.67 L213.1,248.04 L213.6,246.39 L214.1,244.72 L214.6,243.02 L215.1,241.3 L215.6,239.57" fill="none" stroke="#8000ff" stroke-width="2.1" stroke-linejoin="round" stroke-linecap="round" />
<path d="M152.6,261.06 L153.1,263 L153.6,264.87 L154.1,266.68 L154.6,268.43 L155.1,270.12 L155.6,271.75 L156.1,273.32 L156.6,274.84 L157.1,276.3 L157.6,277.7 L158.1,279.05 L158.6,280.34 L159.1,281.58 L159.6,282.77 L160.1,283.91 L160.6,285 L161.1,286.05 L161.6,287.04 L162.1,287.99 L162.6,288.89 L163.1,289.75 L163.6,290.56 L164.1,291.33 L164.6,292.06 L165.1,292.75 L165.6,293.39 L166.1,294 L166.6,294.58 L167.1,295.11 L167.6,295.61 L168.1,296.08 L168.6,296.51 L169.1,296.91 L169.6,297.29 L170.1,297.63 L170.6,297.94 L171.1,298.22 L171.6,298.48 L172.1,298.71 L172.6,298.92 L173.1,299.1 L173.6,299.27 L174.1,299.41 L174.6,299.53 L175.1,299.64 L175.6,299.73 L176.1,299.8 L176.6,299.86 L177.1,299.91 L177.6,299.94 L178.1,299.97 L178.6,299.98 L179.1,299.99 L179.6,300 L180.1,300 L180.6,299.98 L181.1,299.92 L181.6,299.81 L182.1,299.67 L182.6,299.5 L183.1,299.3 L183.6,299.08 L184.1,298.83 L184.6,298.56 L185.1,298.27 L185.6,297.96 L186.1,297.62 L186.6,297.26 L187.1,296.89 L187.6,296.49 L188.1,296.07 L188.6,295.64 L189.1,295.18 L189.6,294.71 L190.1,294.22 L190.6,293.72 L191.1,293.19 L191.6,292.65 L192.1,292.09 L192.6,291.52 L193.1,290.93 L193.6,290.32 L194.1,289.7 L194.6,289.06 L195.1,288.41 L195.6,287.74 L196.1,287.05 L196.6,286.35 L197.1,285.64 L197.6,284.91 L198.1,284.16 L198.6,283.4 L199.1,282.63 L199.6,281.84 L200.1,281.04 L200.6,280.22 L201.1,279.39 L201.6,278.55 L202.1,277.69 L202.6,276.82 L203.1,275.93 L203.6,275.03 L204.1,274.12 L204.6,273.2 L205.1,272.26 L205.6,271.31 L206.1,270.34 L206.6,269.36 L207.1,268.37 L207.6,267.37 L208.1,266.35 L208.6,265.32 L209.1,264.28 L209.6,263.23 L210.1,262.16 L210.6,261.08 L211.1,259.99 L211.6,258.89 L212.1,257.77 L212.6,256.64 L213.1,255.5 L213.6,254.35 L214.1,253.19 L214.6,252.01 L215.1,250.82 L215.6,249.62" fill="none" stroke="#000000" stroke-width="2.1" stroke-linejoin="round" stroke-linecap="round" />
<path d="M152.6,261.69 L153.1,263.8 L153.6,265.83 L154.1,267.76 L154.6,269.62 L155.1,271.39 L155.6,273.08 L156.1,274.69 L156.6,276.22 L157.1,277.68 L157.6,279.07 L158.1,280.39 L158.6,281.64 L159.1,282.83 L159.6,283.95 L160.1,285.01 L160.6,286 L161.1,286.94 L161.6,287.83 L162.1,288.66 L162.6,289.43 L163.1,290.16 L163.6,290.84 L164.1,291.47 L164.6,292.06 L165.1,292.6 L165.6,293.1 L166.1,293.56 L166.6,293.99 L167.1,294.38 L167.6,294.73 L168.1,295.06 L168.6,295.35 L169.1,295.61 L169.6,295.85 L170.1,296.06 L170.6,296.25 L171.1,296.41 L171.6,296.55 L172.1,296.68 L172.6,296.78 L173.1,296.88 L173.6,296.95 L174.1,297.01 L174.6,297.06 L175.1,297.1 L175.6,297.14 L176.1,297.16 L176.6,297.18 L177.1,297.19 L177.6,297.19 L178.1,297.2 L178.6,297.2 L179.1,297.2 L179.6,297.2 L180.1,297.14 L180.6,297.04 L181.1,296.9 L181.6,296.73 L182.1,296.54 L182.6,296.32 L183.1,296.07 L183.6,295.81 L184.1,295.52 L184.6,295.21 L185.1,294.88 L185.6,294.53 L186.1,294.16 L186.6,293.77 L187.1,293.36 L187.6,292.94 L188.1,292.5 L188.6,292.05 L189.1,291.57 L189.6,291.09 L190.1,290.58 L190.6,290.06 L191.1,289.53 L191.6,288.98 L192.1,288.41 L192.6,287.83 L193.1,287.24 L193.6,286.63 L194.1,286.01 L194.6,285.38 L195.1,284.73 L195.6,284.06 L196.1,283.39 L196.6,282.7 L197.1,282 L197.6,281.28 L198.1,280.56 L198.6,279.82 L199.1,279.06 L199.6,278.3 L200.1,277.52 L200.6,276.73 L201.1,275.93 L201.6,275.12 L202.1,274.29 L202.6,273.45 L203.1,272.61 L203.6,271.75 L204.1,270.87 L204.6,269.99 L205.1,269.1 L205.6,268.19 L206.1,267.27 L206.6,266.35 L207.1,265.41 L207.6,264.46 L208.1,263.5 L208.6,262.52 L209.1,261.54 L209.6,260.55 L210.1,259.54 L210.6,258.53 L211.1,257.5 L211.6,256.47 L212.1,255.42 L212.6,254.37 L213.1,253.3 L213.6,252.23 L214.1,251.14 L214.6,250.04 L215.1,248.94 L215.6,247.82" fill="none" stroke="#ff0000" stroke-width="2.1" stroke-linejoin="round" stroke-linecap="round" />
<path d="M152.6,260.27 L153.1,262.41 L153.6,264.45 L154.1,266.41 L154.6,268.27 L155.1,270.04 L155.6,271.73 L156.1,273.34 L156.6,274.86 L157.1,276.31 L157.6,277.68 L158.1,278.98 L158.6,280.21 L159.1,281.37 L159.6,282.46 L160.1,283.48 L160.6,284.45 L161.1,285.35 L161.6,286.2 L162.1,286.99 L162.6,287.72 L163.1,288.41 L163.6,289.04 L164.1,289.63 L164.6,290.17 L165.1,290.67 L165.6,291.13 L166.1,291.55 L166.6,291.93 L167.1,292.27 L167.6,292.58 L168.1,292.86 L168.6,293.12 L169.1,293.34 L169.6,293.53 L170.1,293.71 L170.6,293.85 L171.1,293.98 L171.6,294.09 L172.1,294.19 L172.6,294.26 L173.1,294.32 L173.6,294.38 L174.1,294.41 L174.6,294.44 L175.1,294.47 L175.6,294.48 L176.1,294.49 L176.6,294.5 L177.1,294.5 L177.6,294.5 L178.1,294.5 L178.6,294.46 L179.1,294.36 L179.6,294.22 L180.1,294.05 L180.6,293.85 L181.1,293.63 L181.6,293.38 L182.1,293.11 L182.6,292.82 L183.1,292.51 L183.6,292.18 L184.1,291.83 L184.6,291.47 L185.1,291.09 L185.6,290.69 L186.1,290.28 L186.6,289.85 L187.1,289.41 L187.6,288.96 L188.1,288.49 L188.6,288 L189.1,287.51 L189.6,287 L190.1,286.47 L190.6,285.94 L191.1,285.39 L191.6,284.83 L192.1,284.25 L192.6,283.67 L193.1,283.07 L193.6,282.47 L194.1,281.85 L194.6,281.22 L195.1,280.58 L195.6,279.92 L196.1,279.26 L196.6,278.59 L197.1,277.9 L197.6,277.21 L198.1,276.5 L198.6,275.79 L199.1,275.06 L199.6,274.33 L200.1,273.58 L200.6,272.83 L201.1,272.07 L201.6,271.29 L202.1,270.51 L202.6,269.72 L203.1,268.91 L203.6,268.1 L204.1,267.28 L204.6,266.45 L205.1,265.61 L205.6,264.77 L206.1,263.91 L206.6,263.04 L207.1,262.17 L207.6,261.29 L208.1,260.4 L208.6,259.5 L209.1,258.59 L209.6,257.67 L210.1,256.75 L210.6,255.82 L211.1,254.87 L211.6,253.92 L212.1,252.97 L212.6,252 L213.1,251.03 L213.6,250.05 L214.1,249.06 L214.6,248.06 L215.1,247.05 L215.6,246.04" fill="none" stroke="#0000ff" stroke-width="2.1" stroke-linejoin="round" stroke-linecap="round" />
<path d="M152.6,261.28 L153.1,262.27 L153.6,263.23 L154.1,264.19 L154.6,265.13 L155.1,266.05 L155.6,266.96 L156.1,267.86 L156.6,268.74 L157.1,269.6 L157.6,270.45 L158.1,271.28 L158.6,272.1 L159.1,272.9 L159.6,273.69 L160.1,274.46 L160.6,275.21 L161.1,275.95 L161.6,276.67 L162.1,277.38 L162.6,278.07 L163.1,278.74 L163.6,279.4 L164.1,280.04 L164.6,280.66 L165.1,281.26 L165.6,281.85 L166.1,282.42 L166.6,282.97 L167.1,283.5 L167.6,284.02 L168.1,284.51 L168.6,284.99 L169.1,285.45 L169.6,285.89 L170.1,286.3 L170.6,286.7 L171.1,287.08 L171.6,287.44 L172.1,287.77 L172.6,288.09 L173.1,288.38 L173.6,288.65 L174.1,288.89 L174.6,289.11 L175.1,289.3 L175.6,289.47 L176.1,289.6 L176.6,289.71 L177.1,289.78 L177.6,289.8 L178.1,289.74 L178.6,289.64 L179.1,289.51 L179.6,289.36 L180.1,289.18 L180.6,288.98 L181.1,288.75 L181.6,288.51 L182.1,288.25 L182.6,287.97 L183.1,287.68 L183.6,287.37 L184.1,287.04 L184.6,286.7 L185.1,286.34 L185.6,285.97 L186.1,285.58 L186.6,285.19 L187.1,284.77 L187.6,284.35 L188.1,283.91 L188.6,283.46 L189.1,283 L189.6,282.52 L190.1,282.03 L190.6,281.53 L191.1,281.02 L191.6,280.5 L192.1,279.97 L192.6,279.42 L193.1,278.87 L193.6,278.3 L194.1,277.73 L194.6,277.14 L195.1,276.54 L195.6,275.93 L196.1,275.32 L196.6,274.69 L197.1,274.05 L197.6,273.4 L198.1,272.74 L198.6,272.08 L199.1,271.4 L199.6,270.71 L200.1,270.02 L200.6,269.31 L201.1,268.6 L201.6,267.88 L202.1,267.14 L202.6,266.4 L203.1,265.65 L203.6,264.89 L204.1,264.13 L204.6,263.35 L205.1,262.56 L205.6,261.77 L206.1,260.97 L206.6,260.16 L207.1,259.34 L207.6,258.51 L208.1,257.67 L208.6,256.83 L209.1,255.98 L209.6,255.12 L210.1,254.25 L210.6,253.37 L211.1,252.49 L211.6,251.6 L212.1,250.7 L212.6,249.79 L213.1,248.87 L213.6,247.95 L214.1,247.02 L214.6,246.08 L215.1,245.13 L215.6,244.18" fill="none" stroke="#ff00ff" stroke-width="2.1" stroke-linejoin="round" stroke-linecap="round" />
<path d="M152.6,260.43 L153.1,261.14 L153.6,261.85 L154.1,262.55 L154.6,263.24 L155.1,263.92 L155.6,264.6 L156.1,265.27 L156.6,265.93 L157.1,266.58 L157.6,267.22 L158.1,267.86 L158.6,268.48 L159.1,269.1 L159.6,269.71 L160.1,270.31 L160.6,270.9 L161.1,271.49 L161.6,272.06 L162.1,272.62 L162.6,273.18 L163.1,273.72 L163.6,274.25 L164.1,274.78 L164.6,275.29 L165.1,275.8 L165.6,276.29 L166.1,276.77 L166.6,277.24 L167.1,277.7 L167.6,278.15 L168.1,278.58 L168.6,279 L169.1,279.41 L169.6,279.81 L170.1,280.19 L170.6,280.56 L171.1,280.92 L171.6,281.25 L172.1,281.58 L172.6,281.88 L173.1,282.17 L173.6,282.44 L174.1,282.68 L174.6,282.91 L175.1,283.11 L175.6,283.28 L176.1,283.41 L176.6,283.49 L177.1,283.42 L177.6,283.26 L178.1,283.06 L178.6,282.82 L179.1,282.55 L179.6,282.27 L180.1,281.96 L180.6,281.64 L181.1,281.29 L181.6,280.93 L182.1,280.56 L182.6,280.17 L183.1,279.77 L183.6,279.35 L184.1,278.93 L184.6,278.49 L185.1,278.04 L185.6,277.58 L186.1,277.11 L186.6,276.63 L187.1,276.14 L187.6,275.64 L188.1,275.13 L188.6,274.61 L189.1,274.08 L189.6,273.55 L190.1,273 L190.6,272.45 L191.1,271.89 L191.6,271.32 L192.1,270.74 L192.6,270.16 L193.1,269.57 L193.6,268.97 L194.1,268.37 L194.6,267.75 L195.1,267.14 L195.6,266.51 L196.1,265.88 L196.6,265.24 L197.1,264.59 L197.6,263.94 L198.1,263.28 L198.6,262.62 L199.1,261.95 L199.6,261.27 L200.1,260.59 L200.6,259.9 L201.1,259.21 L201.6,258.51 L202.1,257.8 L202.6,257.09 L203.1,256.37 L203.6,255.65 L204.1,254.92 L204.6,254.19 L205.1,253.45 L205.6,252.71 L206.1,251.96 L206.6,251.21 L207.1,250.45 L207.6,249.69 L208.1,248.92 L208.6,248.14 L209.1,247.37 L209.6,246.58 L210.1,245.8 L210.6,245 L211.1,244.21 L211.6,243.4 L212.1,242.6 L212.6,241.79 L213.1,240.97 L213.6,240.15 L214.1,239.33 L214.6,238.5 L215.1,237.66 L215.6,236.83" fill="none" stroke="#008000" stroke-width="2.1" stroke-linejoin="round" stroke-linecap="round" />
<path d="M152.6,247.13 L153.1,247.72 L153.6,248.29 L154.1,248.85 L154.6,249.39 L155.1,249.93 L155.6,250.45 L156.1,250.95 L156.6,251.45 L157.1,251.93 L157.6,252.4 L158.1,252.86 L158.6,253.3 L159.1,253.74 L159.6,254.15 L160.1,254.56 L160.6,254.95 L161.1,255.33 L161.6,255.7 L162.1,256.05 L162.6,256.39 L163.1,256.72 L163.6,257.03 L164.1,257.33 L164.6,257.61 L165.1,257.89 L165.6,258.14 L166.1,258.39 L166.6,258.62 L167.1,258.84 L167.6,259.04 L168.1,259.23 L168.6,259.4 L169.1,259.56 L169.6,259.7 L170.1,259.83 L170.6,259.95 L171.1,260.05 L171.6,260.13 L172.1,260.2 L172.6,260.25 L173.1,260.28 L173.6,260.3 L174.1,260.29 L174.6,260.25 L175.1,260.18 L175.6,260.1 L176.1,260.01 L176.6,259.9 L177.1,259.77 L177.6,259.63 L178.1,259.47 L178.6,259.3 L179.1,259.12 L179.6,258.93 L180.1,258.72 L180.6,258.5 L181.1,258.27 L181.6,258.03 L182.1,257.78 L182.6,257.51 L183.1,257.24 L183.6,256.95 L184.1,256.66 L184.6,256.35 L185.1,256.03 L185.6,255.71 L186.1,255.37 L186.6,255.02 L187.1,254.67 L187.6,254.3 L188.1,253.93 L188.6,253.54 L189.1,253.15 L189.6,252.74 L190.1,252.33 L190.6,251.91 L191.1,251.47 L191.6,251.03 L192.1,250.58 L192.6,250.12 L193.1,249.66 L193.6,249.18 L194.1,248.7 L194.6,248.2 L195.1,247.7 L195.6,247.19 L196.1,246.67 L196.6,246.14 L197.1,245.61 L197.6,245.06 L198.1,244.51 L198.6,243.95 L199.1,243.38 L199.6,242.8 L200.1,242.22 L200.6,241.63 L201.1,241.03 L201.6,240.42 L202.1,239.8 L202.6,239.18 L203.1,238.54 L203.6,237.9 L204.1,237.25 L204.6,236.6 L205.1,235.94 L205.6,235.26 L206.1,234.59 L206.6,233.9 L207.1,233.21 L207.6,232.5 L208.1,231.79 L208.6,231.08 L209.1,230.35 L209.6,229.62 L210.1,228.88 L210.6,228.14 L211.1,227.39 L211.6,226.63 L212.1,225.86 L212.6,225.08 L213.1,224.3 L213.6,223.51 L214.1,222.71 L214.6,221.91 L215.1,221.1 L215.6,220.28" fill="none" stroke="#000080" stroke-width="2.1" stroke-linejoin="round" stroke-linecap="round" />
</g>
<line x1="152.6" y1="226.25" x2="152.6" y2="319.85" stroke="#111" stroke-width="1.1"/>
<line x1="215.7" y1="226.25" x2="215.7" y2="319.85" stroke="#111" stroke-width="1.1"/>
<line x1="152.6" y1="226.8" x2="215.7" y2="226.8" stroke="#111" stroke-width="1.1"/>
<line x1="152.6" y1="319.3" x2="215.7" y2="319.3" stroke="#111" stroke-width="1.1"/>
<line x1="158.4" y1="319.3" x2="158.4" y2="317.5" stroke="#111" stroke-width="1.0"/>
<text transform="translate(158.4 328.9) scale(1.07 1)" font-size="9" text-anchor="middle" fill="#000" font-family="Liberation Sans, sans-serif" font-weight="bold" >0.71</text>
<line x1="183.9" y1="319.3" x2="183.9" y2="317.5" stroke="#111" stroke-width="1.0"/>
<text transform="translate(183.9 328.9) scale(1.07 1)" font-size="9" text-anchor="middle" fill="#000" font-family="Liberation Sans, sans-serif" font-weight="bold" >0.75</text>
<line x1="209.4" y1="319.3" x2="209.4" y2="317.5" stroke="#111" stroke-width="1.0"/>
<text transform="translate(209.4 328.9) scale(1.07 1)" font-size="9" text-anchor="middle" fill="#000" font-family="Liberation Sans, sans-serif" font-weight="bold" >0.79</text>
<line x1="171.15" y1="319.3" x2="171.15" y2="318.3" stroke="#111" stroke-width="1.0"/>
<line x1="196.65" y1="319.3" x2="196.65" y2="318.3" stroke="#111" stroke-width="1.0"/>
<line x1="152.6" y1="247.3" x2="154.4" y2="247.3" stroke="#111" stroke-width="1.0"/>
<text transform="translate(150.8 250.5) scale(1.07 1)" font-size="9" text-anchor="end" fill="#000" font-family="Liberation Sans, sans-serif" font-weight="bold" >-21</text>
<line x1="152.6" y1="273.4" x2="154.4" y2="273.4" stroke="#111" stroke-width="1.0"/>
<text transform="translate(150.8 276.6) scale(1.07 1)" font-size="9" text-anchor="end" fill="#000" font-family="Liberation Sans, sans-serif" font-weight="bold" >-23</text>
<line x1="152.6" y1="299.5" x2="154.4" y2="299.5" stroke="#111" stroke-width="1.0"/>
<text transform="translate(150.8 302.7) scale(1.07 1)" font-size="9" text-anchor="end" fill="#000" font-family="Liberation Sans, sans-serif" font-weight="bold" >-25</text>
<line x1="43.5" y1="2.95" x2="43.5" y2="337.05" stroke="#111" stroke-width="1.1"/>
<line x1="220.5" y1="2.95" x2="220.5" y2="337.05" stroke="#111" stroke-width="1.1"/>
<line x1="43.5" y1="3.5" x2="220.5" y2="3.5" stroke="#111" stroke-width="1.1"/>
<line x1="43.5" y1="336.5" x2="220.5" y2="336.5" stroke="#111" stroke-width="1.1"/>
<line x1="43.4" y1="336.5" x2="43.4" y2="332.5" stroke="#111" stroke-width="1.0"/>
<text transform="translate(43.4 351.6) scale(1.07 1)" font-size="12" text-anchor="middle" fill="#000" font-family="Liberation Sans, sans-serif" font-weight="bold" >0.2</text>
<line x1="58.14" y1="336.5" x2="58.14" y2="334.5" stroke="#111" stroke-width="1.0"/>
<line x1="72.88" y1="336.5" x2="72.88" y2="332.5" stroke="#111" stroke-width="1.0"/>
<text transform="translate(72.88 351.6) scale(1.07 1)" font-size="12" text-anchor="middle" fill="#000" font-family="Liberation Sans, sans-serif" font-weight="bold" >0.4</text>
<line x1="87.62" y1="336.5" x2="87.62" y2="334.5" stroke="#111" stroke-width="1.0"/>
<line x1="102.36" y1="336.5" x2="102.36" y2="332.5" stroke="#111" stroke-width="1.0"/>
<text transform="translate(102.36 351.6) scale(1.07 1)" font-size="12" text-anchor="middle" fill="#000" font-family="Liberation Sans, sans-serif" font-weight="bold" >0.6</text>
<line x1="117.1" y1="336.5" x2="117.1" y2="334.5" stroke="#111" stroke-width="1.0"/>
<line x1="131.84" y1="336.5" x2="131.84" y2="332.5" stroke="#111" stroke-width="1.0"/>
<text transform="translate(131.84 351.6) scale(1.07 1)" font-size="12" text-anchor="middle" fill="#000" font-family="Liberation Sans, sans-serif" font-weight="bold" >0.8</text>
<line x1="146.58" y1="336.5" x2="146.58" y2="334.5" stroke="#111" stroke-width="1.0"/>
<line x1="161.32" y1="336.5" x2="161.32" y2="332.5" stroke="#111" stroke-width="1.0"/>
<text transform="translate(161.32 351.6) scale(1.07 1)" font-size="12" text-anchor="middle" fill="#000" font-family="Liberation Sans, sans-serif" font-weight="bold" >1.0</text>
<line x1="176.06" y1="336.5" x2="176.06" y2="334.5" stroke="#111" stroke-width="1.0"/>
<line x1="190.8" y1="336.5" x2="190.8" y2="332.5" stroke="#111" stroke-width="1.0"/>
<text transform="translate(190.8 351.6) scale(1.07 1)" font-size="12" text-anchor="middle" fill="#000" font-family="Liberation Sans, sans-serif" font-weight="bold" >1.2</text>
<line x1="205.54" y1="336.5" x2="205.54" y2="334.5" stroke="#111" stroke-width="1.0"/>
<line x1="220.28" y1="336.5" x2="220.28" y2="332.5" stroke="#111" stroke-width="1.0"/>
<text transform="translate(220.28 351.6) scale(1.07 1)" font-size="12" text-anchor="middle" fill="#000" font-family="Liberation Sans, sans-serif" font-weight="bold" >1.4</text>
<line x1="43.5" y1="54.6" x2="47.5" y2="54.6" stroke="#111" stroke-width="1.0"/>
<text transform="translate(38.4 58.9) scale(1.07 1)" font-size="12" text-anchor="end" fill="#000" font-family="Liberation Sans, sans-serif" font-weight="bold" >-5</text>
<line x1="43.5" y1="118.9" x2="47.5" y2="118.9" stroke="#111" stroke-width="1.0"/>
<text transform="translate(38.4 123.2) scale(1.07 1)" font-size="12" text-anchor="end" fill="#000" font-family="Liberation Sans, sans-serif" font-weight="bold" >-10</text>
<line x1="43.5" y1="183.2" x2="47.5" y2="183.2" stroke="#111" stroke-width="1.0"/>
<text transform="translate(38.4 187.5) scale(1.07 1)" font-size="12" text-anchor="end" fill="#000" font-family="Liberation Sans, sans-serif" font-weight="bold" >-15</text>
<line x1="43.5" y1="247.5" x2="47.5" y2="247.5" stroke="#111" stroke-width="1.0"/>
<text transform="translate(38.4 251.8) scale(1.07 1)" font-size="12" text-anchor="end" fill="#000" font-family="Liberation Sans, sans-serif" font-weight="bold" >-20</text>
<line x1="43.5" y1="311.8" x2="47.5" y2="311.8" stroke="#111" stroke-width="1.0"/>
<text transform="translate(38.4 316.1) scale(1.07 1)" font-size="12" text-anchor="end" fill="#000" font-family="Liberation Sans, sans-serif" font-weight="bold" >-25</text>
<line x1="43.5" y1="22.45" x2="45.5" y2="22.45" stroke="#111" stroke-width="1.0"/>
<line x1="43.5" y1="86.75" x2="45.5" y2="86.75" stroke="#111" stroke-width="1.0"/>
<line x1="43.5" y1="151.05" x2="45.5" y2="151.05" stroke="#111" stroke-width="1.0"/>
<line x1="43.5" y1="215.35" x2="45.5" y2="215.35" stroke="#111" stroke-width="1.0"/>
<line x1="43.5" y1="279.65" x2="45.5" y2="279.65" stroke="#111" stroke-width="1.0"/>
<text transform="translate(132.1 373.4) scale(1.03 1)" font-size="16.8" text-anchor="middle" fill="#000" font-family="Liberation Sans, sans-serif" font-weight="bold" >Frequency (THz)</text>
<text x="12.9" y="178.3" font-size="13.5" text-anchor="middle" fill="#000" font-family="Liberation Sans, sans-serif" font-weight="bold" transform="rotate(-90 12.9 178.3)">Transmission (dB)</text>
<text x="10" y="24.7" font-size="23" text-anchor="start" fill="#000" font-family="Liberation Sans, sans-serif" font-weight="bold" >a</text>
<text transform="translate(72.3 22.1) scale(1.035 1)" font-size="15.2" text-anchor="start" fill="#000" font-family="Liberation Sans, sans-serif" font-weight="bold" >Room Temperature</text>
<text x="118.1" y="37.5" font-size="10.2" text-anchor="start" fill="#000" font-family="Liberation Sans, sans-serif" font-weight="bold" >V</text>
<text x="125.6" y="41.9" font-size="6.8" text-anchor="start" fill="#000" font-family="Liberation Sans, sans-serif" font-weight="bold" >G</text>
<text x="131.1" y="36.9" font-size="10" text-anchor="start" fill="#000" font-family="Liberation Sans, sans-serif" font-weight="bold" >=</text>
<line x1="101.6" y1="50.6" x2="127.7" y2="50.6" stroke="#8000ff" stroke-width="2.6"/>
<text x="130.6" y="54.7" font-size="11" text-anchor="start" fill="#000" font-family="Liberation Sans, sans-serif" font-weight="bold" >0V</text>
<line x1="101.6" y1="63.92" x2="127.7" y2="63.92" stroke="#000000" stroke-width="2.6"/>
<text x="130.6" y="68.02" font-size="11" text-anchor="start" fill="#000" font-family="Liberation Sans, sans-serif" font-weight="bold" >4V</text>
<line x1="101.6" y1="77.24" x2="127.7" y2="77.24" stroke="#ff0000" stroke-width="2.6"/>
<text x="130.6" y="81.34" font-size="11" text-anchor="start" fill="#000" font-family="Liberation Sans, sans-serif" font-weight="bold" >8V</text>
<line x1="101.6" y1="90.56" x2="127.7" y2="90.56" stroke="#0000ff" stroke-width="2.6"/>
<text x="130.6" y="94.66" font-size="11" text-anchor="start" fill="#000" font-family="Liberation Sans, sans-serif" font-weight="bold" >12V</text>
<line x1="101.6" y1="103.88" x2="127.7" y2="103.88" stroke="#ff00ff" stroke-width="2.6"/>
<text x="130.6" y="107.98" font-size="11" text-anchor="start" fill="#000" font-family="Liberation Sans, sans-serif" font-weight="bold" >16V</text>
<line x1="101.6" y1="117.2" x2="127.7" y2="117.2" stroke="#008000" stroke-width="2.6"/>
<text x="130.6" y="121.3" font-size="11" text-anchor="start" fill="#000" font-family="Liberation Sans, sans-serif" font-weight="bold" >20V</text>
<line x1="101.6" y1="130.52" x2="127.7" y2="130.52" stroke="#000080" stroke-width="2.6"/>
<text x="130.6" y="134.62" font-size="11" text-anchor="start" fill="#000" font-family="Liberation Sans, sans-serif" font-weight="bold" >24V</text>
<clipPath id="clipB"><rect x="275.5" y="3.5" width="177.0" height="167.0"/></clipPath>
<g clip-path="url(#clipB)">
<path d="M275.5,152.3 C277.92,152.33 285.08,152.5 290,152.5 C294.92,152.5 300,152.3 305,152.3 C310,152.3 315,152.52 320,152.5 C325,152.48 330,152.28 335,152.2 C340,152.12 345.83,152.03 350,152 C354.17,151.97 357.5,152.17 360,152 C362.5,151.83 363.58,151.92 365,151 C366.42,150.08 367.47,148.13 368.5,146.5 C369.53,144.87 370.42,141.62 371.2,141.2 C371.98,140.78 372.48,142.87 373.2,144 C373.92,145.13 374.7,146.75 375.5,148 C376.3,149.25 377.15,150.65 378,151.5 C378.85,152.35 379.6,152.72 380.6,153.1 C381.6,153.48 382.92,153.68 384,153.8 C385.08,153.92 386.02,153.67 387.1,153.8 C388.18,153.93 389.32,154.4 390.5,154.6 C391.68,154.8 392.78,155.23 394.2,155 C395.62,154.77 397.62,153.45 399,153.2 C400.38,152.95 401.32,153.3 402.5,153.5 C403.68,153.7 404.93,154.4 406.1,154.4 C407.27,154.4 408.32,153.9 409.5,153.5 C410.68,153.1 411.78,152.33 413.2,152 C414.62,151.67 416.03,151.75 418,151.5 C419.97,151.25 422.5,150.75 425,150.5 C427.5,150.25 430.17,150.17 433,150 C435.83,149.83 438.75,149.63 442,149.5 C445.25,149.37 450.75,149.25 452.5,149.2" fill="none" stroke="#000000" stroke-width="2.4" stroke-linejoin="round" stroke-linecap="round" />
<path d="M275.5,152.1 C277.92,152.08 285.08,151.97 290,152 C294.92,152.03 300,152.3 305,152.3 C310,152.3 315,152.08 320,152 C325,151.92 330,151.88 335,151.8 C340,151.72 345.83,151.55 350,151.5 C354.17,151.45 357.5,151.75 360,151.5 C362.5,151.25 363.58,151.08 365,150 C366.42,148.92 367.58,146.75 368.5,145 C369.42,143.25 369.9,141 370.5,139.5 C371.1,138 371.52,136.33 372.1,136 C372.68,135.67 373.15,136.35 374,137.5 C374.85,138.65 376.2,141.68 377.2,142.9 C378.2,144.12 379.13,144.28 380,144.8 C380.87,145.32 381.57,145.55 382.4,146 C383.23,146.45 384.07,147 385,147.5 C385.93,148 386.83,148.53 388,149 C389.17,149.47 390.5,149.88 392,150.3 C393.5,150.72 395.17,151.17 397,151.5 C398.83,151.83 401,152.25 403,152.3 C405,152.35 407.17,151.98 409,151.8 C410.83,151.62 412.17,151.25 414,151.2 C415.83,151.15 418.17,151.53 420,151.5 C421.83,151.47 423.33,151.25 425,151 C426.67,150.75 428,150.33 430,150 C432,149.67 434.5,149.25 437,149 C439.5,148.75 442.42,148.62 445,148.5 C447.58,148.38 451.25,148.33 452.5,148.3" fill="none" stroke="#ff0000" stroke-width="2.4" stroke-linejoin="round" stroke-linecap="round" />
<path d="M275.5,152.1 C277.92,152.13 285.08,152.23 290,152.3 C294.92,152.37 300,152.5 305,152.5 C310,152.5 315,152.38 320,152.3 C325,152.22 330,152.08 335,152 C340,151.92 345.83,151.88 350,151.8 C354.17,151.72 357.67,151.8 360,151.5 C362.33,151.2 362.75,151.08 364,150 C365.25,148.92 366.5,146.83 367.5,145 C368.5,143.17 369.2,141 370,139 C370.8,137 371.62,134.5 372.3,133 C372.98,131.5 373.48,130.25 374.1,130 C374.72,129.75 375.2,130.22 376,131.5 C376.8,132.78 377.98,136.03 378.9,137.7 C379.82,139.37 380.65,140.35 381.5,141.5 C382.35,142.65 383.07,143.73 384,144.6 C384.93,145.47 386.1,146.08 387.1,146.7 C388.1,147.32 388.82,147.83 390,148.3 C391.18,148.77 392.7,149.05 394.2,149.5 C395.7,149.95 397.37,150.58 399,151 C400.63,151.42 402.33,151.92 404,152 C405.67,152.08 407.33,151.67 409,151.5 C410.67,151.33 412.17,151 414,151 C415.83,151 418.17,151.5 420,151.5 C421.83,151.5 423.33,151.25 425,151 C426.67,150.75 428,150.37 430,150 C432,149.63 434.5,149.08 437,148.8 C439.5,148.52 442.42,148.43 445,148.3 C447.58,148.17 451.25,148.05 452.5,148" fill="none" stroke="#0000ff" stroke-width="2.4" stroke-linejoin="round" stroke-linecap="round" />
<path d="M275.5,154 C277.92,154.08 285.08,154.33 290,154.5 C294.92,154.67 300,154.92 305,155 C310,155.08 315,155.08 320,155 C325,154.92 330,154.67 335,154.5 C340,154.33 346.17,154.25 350,154 C353.83,153.75 356,153.5 358,153 C360,152.5 360.75,152.17 362,151 C363.25,149.83 364.5,148.17 365.5,146 C366.5,143.83 367.17,141 368,138 C368.83,135 369.75,131 370.5,128 C371.25,125 371.9,121.8 372.5,120 C373.1,118.2 373.52,117.2 374.1,117.2 C374.68,117.2 375.2,118 376,120 C376.8,122 378.07,126.87 378.9,129.2 C379.73,131.53 380.15,132.3 381,134 C381.85,135.7 383.17,137.98 384,139.4 C384.83,140.82 385.25,141.4 386,142.5 C386.75,143.6 387.53,144.92 388.5,146 C389.47,147.08 390.45,148.23 391.8,149 C393.15,149.77 394.62,150.27 396.6,150.6 C398.58,150.93 401.8,151.02 403.7,151 C405.6,150.98 406.62,150.73 408,150.5 C409.38,150.27 410.67,149.6 412,149.6 C413.33,149.6 414.42,150.1 416,150.5 C417.58,150.9 419.83,151.92 421.5,152 C423.17,152.08 424.62,151.4 426,151 C427.38,150.6 428.3,150.02 429.8,149.6 C431.3,149.18 433.43,148.8 435,148.5 C436.57,148.2 437.53,147.88 439.2,147.8 C440.87,147.72 442.78,147.88 445,148 C447.22,148.12 451.25,148.42 452.5,148.5" fill="none" stroke="#ff00ff" stroke-width="2.4" stroke-linejoin="round" stroke-linecap="round" />
<path d="M275.5,156.7 C277.92,156.8 285.08,157.08 290,157.3 C294.92,157.52 300.33,157.77 305,158 C309.67,158.23 314.33,158.58 318,158.7 C321.67,158.82 323.33,158.78 327,158.7 C330.67,158.62 336.17,158.32 340,158.2 C343.83,158.08 347.5,158.2 350,158 C352.5,157.8 353.67,157.53 355,157 C356.33,156.47 357.08,155.55 358,154.8 C358.92,154.05 359.58,153.55 360.5,152.5 C361.42,151.45 362.55,150 363.5,148.5 C364.45,147 365.48,145.42 366.2,143.5 C366.92,141.58 367.3,139.38 367.8,137 C368.3,134.62 368.77,132.03 369.2,129.2 C369.63,126.37 370.02,122.85 370.4,120 C370.78,117.15 371.15,114.6 371.5,112.1 C371.85,109.6 372.08,106.85 372.5,105 C372.92,103.15 373.5,101.42 374,101 C374.5,100.58 374.97,101.22 375.5,102.5 C376.03,103.78 376.65,106.7 377.2,108.7 C377.75,110.7 378.23,112.52 378.8,114.5 C379.37,116.48 379.98,118.85 380.6,120.6 C381.22,122.35 381.82,123.52 382.5,125 C383.18,126.48 384.03,128.33 384.7,129.5 C385.37,130.67 385.87,131.2 386.5,132 C387.13,132.8 387.62,133.47 388.5,134.3 C389.38,135.13 390.8,136.22 391.8,137 C392.8,137.78 393.5,138.28 394.5,139 C395.5,139.72 396.82,140.72 397.8,141.3 C398.78,141.88 399.42,141.8 400.4,142.5 C401.38,143.2 402.37,144.7 403.7,145.5 C405.03,146.3 406.68,146.97 408.4,147.3 C410.12,147.63 412.07,147.38 414,147.5 C415.93,147.62 417.67,148 420,148 C422.33,148 425.33,147.7 428,147.5 C430.67,147.3 433.33,146.97 436,146.8 C438.67,146.63 441.25,146.55 444,146.5 C446.75,146.45 451.08,146.5 452.5,146.5" fill="none" stroke="#008000" stroke-width="2.4" stroke-linejoin="round" stroke-linecap="round" />
<path d="M275.5,167.9 C277.92,167.95 285.08,168.12 290,168.2 C294.92,168.28 300.33,168.42 305,168.4 C309.67,168.38 314.33,168.22 318,168.1 C321.67,167.98 324,168 327,167.7 C330,167.4 333.07,166.93 336,166.3 C338.93,165.67 342.27,164.78 344.6,163.9 C346.93,163.02 348.47,162.1 350,161 C351.53,159.9 352.68,158.47 353.8,157.3 C354.92,156.13 355.87,155.3 356.7,154 C357.53,152.7 358.18,151.33 358.8,149.5 C359.42,147.67 359.9,145.25 360.4,143 C360.9,140.75 361.32,138.83 361.8,136 C362.28,133.17 362.83,130 363.3,126 C363.77,122 364.15,116.33 364.6,112 C365.05,107.67 365.52,105.33 366,100 C366.48,94.67 366.97,86.67 367.5,80 C368.03,73.33 368.68,65.83 369.2,60 C369.72,54.17 370.18,49.17 370.6,45 C371.02,40.83 371.37,37.45 371.7,35 C372.03,32.55 372.3,31.17 372.6,30.3 C372.9,29.43 373.2,29.55 373.5,29.8 C373.8,30.05 374.07,30.52 374.4,31.8 C374.73,33.08 375.07,34.8 375.5,37.5 C375.93,40.2 376.47,44.25 377,48 C377.53,51.75 378.17,55.5 378.7,60 C379.23,64.5 379.72,70 380.2,75 C380.68,80 380.97,85.83 381.6,90 C382.23,94.17 383.18,96.92 384,100 C384.82,103.08 385.63,105.7 386.5,108.5 C387.37,111.3 388.45,114.8 389.2,116.8 C389.95,118.8 390.37,119.05 391,120.5 C391.63,121.95 392.27,123.8 393,125.5 C393.73,127.2 394.22,128.85 395.4,130.7 C396.58,132.55 398.42,134.43 400.1,136.6 C401.78,138.77 403.92,142.32 405.5,143.7 C407.08,145.08 408.12,144.8 409.6,144.9 C411.08,145 412.82,144 414.4,144.3 C415.98,144.6 417.72,146.02 419.1,146.7 C420.48,147.38 421.55,148.27 422.7,148.4 C423.85,148.53 424.82,147.88 426,147.5 C427.18,147.12 428.18,146.58 429.8,146.1 C431.42,145.62 433.53,144.77 435.7,144.6 C437.87,144.43 440,145.02 442.8,145.1 C445.6,145.18 450.88,145.1 452.5,145.1" fill="none" stroke="#000080" stroke-width="2.4" stroke-linejoin="round" stroke-linecap="round" />
</g>
<clipPath id="clipC"><rect x="275.5" y="170.5" width="177.0" height="166.0"/></clipPath>
<g clip-path="url(#clipC)">
<path d="M275.5,322.6 L277.5,322.6 L279.5,322.6 L281.5,322.6 L283.5,322.6 L285.5,322.6 L287.5,322.6 L289.5,322.6 L291.5,322.6 L293.5,322.6 L295.5,322.6 L297.5,322.6 L299.5,322.6 L301.5,322.6 L303.5,322.6 L305.5,322.6 L307.5,322.6 L309.5,322.6 L311.5,322.6 L313.5,322.6 L315.5,322.6 L317.5,322.6 L319.5,322.6 L321.5,322.6 L323.5,322.6 L325.5,322.6 L327.5,322.6 L329.5,322.6 L331.5,322.6 L333.5,322.6 L335.5,322.6 L337.5,322.6 L339.5,322.6 L341.5,322.6 L343.5,322.6 L345.5,322.6 L347.5,322.6 L349.5,322.6 L351.5,322.6 L353.5,322.6 L355.5,322.6 L356,322.6 L356.5,322.6 L357,322.6 L357.5,322.6 L358,322.6 L358.5,322.6 L359,322.6 L359.5,322.6 L360,322.6 L360.5,322.6 L361,322.6 L361.5,322.6 L362,322.6 L362.5,322.6 L363,322.6 L363.5,322.6 L364,322.6 L364.5,322.6 L365,322.6 L365.5,322.6 L366,322.6 L366.5,322.6 L367,322.6 L367.5,322.6 L368,322.6 L368.5,322.6 L369,322.6 L369.5,322.6 L370,322.6 L370.5,322.6 L371,322.6 L371.5,322.6 L372,322.6 L372.5,322.6 L373,322.6 L373.5,322.6 L374,322.6 L374.5,322.6 L375,322.6 L375.5,322.6 L376,322.6 L376.5,322.6 L377,322.6 L377.5,322.6 L378,322.6 L378.5,322.6 L379,322.6 L379.5,322.6 L380,322.6 L380.5,322.6 L381,322.6 L381.5,322.6 L382,322.6 L382.5,322.6 L383,322.6 L383.5,322.6 L384,322.6 L384.5,322.6 L385,322.6 L385.5,322.6 L386,322.6 L386.5,322.6 L387,322.6 L387.5,322.6 L388,322.6 L388.5,322.6 L389,322.6 L389.5,322.6 L390,322.6 L390.5,322.6 L391,322.6 L391.5,322.6 L392,322.6 L392.5,322.6 L393,322.6 L393.5,322.6 L394,322.6 L394.5,322.6 L395,322.6 L395.5,322.6 L396,322.6 L396.5,322.6 L397,322.6 L397.5,322.6 L398,322.6 L398.5,322.6 L399,322.6 L399.5,322.6 L400,322.6 L402,322.6 L404,322.6 L406,322.6 L408,322.6 L410,322.6 L412,322.6 L414,322.6 L416,322.6 L418,322.6 L420,322.6 L422,322.6 L424,322.6 L426,322.6 L428,322.6 L430,322.6 L432,322.6 L434,322.6 L436,322.6 L438,322.6 L440,322.6 L442,322.6 L444,322.6 L446,322.6 L448,322.6 L450,322.6 L452,322.6" fill="none" stroke="#000000" stroke-width="2.3" stroke-linejoin="round" stroke-linecap="round" />
<path d="M275.5,322.22 L277.5,322.22 L279.5,322.22 L281.5,322.22 L283.5,322.22 L285.5,322.23 L287.5,322.23 L289.5,322.23 L291.5,322.23 L293.5,322.23 L295.5,322.23 L297.5,322.24 L299.5,322.24 L301.5,322.24 L303.5,322.24 L305.5,322.24 L307.5,322.24 L309.5,322.25 L311.5,322.25 L313.5,322.25 L315.5,322.25 L317.5,322.25 L319.5,322.25 L321.5,322.26 L323.5,322.26 L325.5,322.26 L327.5,322.26 L329.5,322.26 L331.5,322.27 L333.5,322.27 L335.5,322.27 L337.5,322.27 L339.5,322.27 L341.5,322.27 L343.5,322.28 L345.5,322.28 L347.5,322.28 L349.5,322.28 L351.5,322.28 L353.5,322.28 L355.5,322.28 L356,322.28 L356.5,322.28 L357,322.29 L357.5,322.29 L358,322.29 L358.5,322.29 L359,322.29 L359.5,322.29 L360,322.29 L360.5,322.29 L361,322.29 L361.5,322.29 L362,322.29 L362.5,322.29 L363,322.28 L363.5,322.28 L364,322.28 L364.5,322.28 L365,322.28 L365.5,322.28 L366,322.28 L366.5,322.27 L367,322.27 L367.5,322.27 L368,322.26 L368.5,322.26 L369,322.25 L369.5,322.24 L370,322.23 L370.5,322.22 L371,322.21 L371.5,322.19 L372,322.18 L372.5,322.16 L373,322.14 L373.5,322.12 L374,322.1 L374.5,322.09 L375,322.08 L375.5,322.07 L376,322.07 L376.5,322.08 L377,322.09 L377.5,322.1 L378,322.11 L378.5,322.13 L379,322.14 L379.5,322.16 L380,322.17 L380.5,322.19 L381,322.2 L381.5,322.22 L382,322.23 L382.5,322.24 L383,322.25 L383.5,322.25 L384,322.26 L384.5,322.27 L385,322.27 L385.5,322.28 L386,322.28 L386.5,322.29 L387,322.29 L387.5,322.29 L388,322.3 L388.5,322.3 L389,322.3 L389.5,322.3 L390,322.3 L390.5,322.31 L391,322.31 L391.5,322.31 L392,322.31 L392.5,322.31 L393,322.31 L393.5,322.31 L394,322.31 L394.5,322.31 L395,322.32 L395.5,322.32 L396,322.32 L396.5,322.32 L397,322.32 L397.5,322.32 L398,322.32 L398.5,322.32 L399,322.32 L399.5,322.32 L400,322.32 L402,322.32 L404,322.33 L406,322.33 L408,322.33 L410,322.33 L412,322.33 L414,322.34 L416,322.34 L418,322.34 L420,322.34 L422,322.34 L424,322.35 L426,322.35 L428,322.35 L430,322.35 L432,322.35 L434,322.35 L436,322.36 L438,322.36 L440,322.36 L442,322.36 L444,322.36 L446,322.36 L448,322.37 L450,322.37 L452,322.37" fill="none" stroke="#ff0000" stroke-width="2.3" stroke-linejoin="round" stroke-linecap="round" />
<path d="M275.5,321.68 L277.5,321.68 L279.5,321.69 L281.5,321.69 L283.5,321.69 L285.5,321.7 L287.5,321.7 L289.5,321.7 L291.5,321.71 L293.5,321.71 L295.5,321.71 L297.5,321.72 L299.5,321.72 L301.5,321.72 L303.5,321.73 L305.5,321.73 L307.5,321.74 L309.5,321.74 L311.5,321.74 L313.5,321.75 L315.5,321.75 L317.5,321.75 L319.5,321.76 L321.5,321.76 L323.5,321.76 L325.5,321.77 L327.5,321.77 L329.5,321.77 L331.5,321.78 L333.5,321.78 L335.5,321.78 L337.5,321.79 L339.5,321.79 L341.5,321.79 L343.5,321.8 L345.5,321.8 L347.5,321.8 L349.5,321.8 L351.5,321.8 L353.5,321.8 L355.5,321.8 L356,321.8 L356.5,321.8 L357,321.8 L357.5,321.8 L358,321.8 L358.5,321.8 L359,321.79 L359.5,321.79 L360,321.79 L360.5,321.78 L361,321.78 L361.5,321.77 L362,321.77 L362.5,321.76 L363,321.75 L363.5,321.74 L364,321.73 L364.5,321.72 L365,321.7 L365.5,321.68 L366,321.66 L366.5,321.63 L367,321.59 L367.5,321.55 L368,321.5 L368.5,321.44 L369,321.37 L369.5,321.29 L370,321.19 L370.5,321.07 L371,320.93 L371.5,320.78 L372,320.6 L372.5,320.42 L373,320.22 L373.5,320.02 L374,319.85 L374.5,319.7 L375,319.6 L375.5,319.55 L376,319.57 L376.5,319.61 L377,319.7 L377.5,319.81 L378,319.94 L378.5,320.08 L379,320.24 L379.5,320.39 L380,320.54 L380.5,320.68 L381,320.81 L381.5,320.93 L382,321.04 L382.5,321.14 L383,321.23 L383.5,321.31 L384,321.37 L384.5,321.43 L385,321.49 L385.5,321.53 L386,321.57 L386.5,321.61 L387,321.64 L387.5,321.67 L388,321.69 L388.5,321.71 L389,321.73 L389.5,321.75 L390,321.76 L390.5,321.77 L391,321.78 L391.5,321.79 L392,321.8 L392.5,321.81 L393,321.82 L393.5,321.83 L394,321.83 L394.5,321.84 L395,321.84 L395.5,321.85 L396,321.85 L396.5,321.86 L397,321.86 L397.5,321.86 L398,321.87 L398.5,321.87 L399,321.87 L399.5,321.87 L400,321.88 L402,321.88 L404,321.89 L406,321.9 L408,321.9 L410,321.91 L412,321.91 L414,321.92 L416,321.92 L418,321.92 L420,321.93 L422,321.93 L424,321.94 L426,321.94 L428,321.94 L430,321.95 L432,321.95 L434,321.95 L436,321.96 L438,321.96 L440,321.96 L442,321.97 L444,321.97 L446,321.98 L448,321.98 L450,321.98 L452,321.99" fill="none" stroke="#0000ff" stroke-width="2.3" stroke-linejoin="round" stroke-linecap="round" />
<path d="M275.5,323.37 L277.5,323.35 L279.5,323.34 L281.5,323.32 L283.5,323.31 L285.5,323.3 L287.5,323.28 L289.5,323.27 L291.5,323.26 L293.5,323.24 L295.5,323.23 L297.5,323.21 L299.5,323.2 L301.5,323.19 L303.5,323.17 L305.5,323.16 L307.5,323.14 L309.5,323.13 L311.5,323.12 L313.5,323.1 L315.5,323.09 L317.5,323.07 L319.5,323.06 L321.5,323.05 L323.5,323.03 L325.5,323.02 L327.5,323 L329.5,322.98 L331.5,322.97 L333.5,322.95 L335.5,322.94 L337.5,322.92 L339.5,322.9 L341.5,322.88 L343.5,322.86 L345.5,322.84 L347.5,322.81 L349.5,322.78 L351.5,322.75 L353.5,322.7 L355.5,322.64 L356,322.62 L356.5,322.6 L357,322.58 L357.5,322.55 L358,322.52 L358.5,322.49 L359,322.46 L359.5,322.42 L360,322.37 L360.5,322.32 L361,322.26 L361.5,322.2 L362,322.12 L362.5,322.03 L363,321.93 L363.5,321.81 L364,321.67 L364.5,321.51 L365,321.32 L365.5,321.09 L366,320.83 L366.5,320.52 L367,320.15 L367.5,319.71 L368,319.18 L368.5,318.55 L369,317.8 L369.5,316.92 L370,315.87 L370.5,314.64 L371,313.22 L371.5,311.6 L372,309.79 L372.5,307.82 L373,305.78 L373.5,303.75 L374,301.9 L374.5,300.36 L375,299.3 L375.5,298.85 L376,298.96 L376.5,299.45 L377,300.29 L377.5,301.42 L378,302.77 L378.5,304.25 L379,305.82 L379.5,307.39 L380,308.92 L380.5,310.38 L381,311.74 L381.5,312.98 L382,314.11 L382.5,315.12 L383,316.02 L383.5,316.81 L384,317.5 L384.5,318.11 L385,318.65 L385.5,319.11 L386,319.52 L386.5,319.87 L387,320.18 L387.5,320.45 L388,320.69 L388.5,320.9 L389,321.08 L389.5,321.24 L390,321.38 L390.5,321.5 L391,321.61 L391.5,321.71 L392,321.79 L392.5,321.87 L393,321.93 L393.5,321.99 L394,322.05 L394.5,322.1 L395,322.14 L395.5,322.18 L396,322.21 L396.5,322.24 L397,322.27 L397.5,322.3 L398,322.32 L398.5,322.34 L399,322.36 L399.5,322.38 L400,322.4 L402,322.45 L404,322.48 L406,322.51 L408,322.53 L410,322.54 L412,322.55 L414,322.56 L416,322.57 L418,322.57 L420,322.58 L422,322.58 L424,322.58 L426,322.59 L428,322.59 L430,322.59 L432,322.59 L434,322.59 L436,322.59 L438,322.59 L440,322.6 L442,322.6 L444,322.6 L446,322.6 L448,322.6 L450,322.6 L452,322.6" fill="none" stroke="#ff00ff" stroke-width="2.3" stroke-linejoin="round" stroke-linecap="round" />
<path d="M275.5,325.51 L277.5,325.46 L279.5,325.4 L281.5,325.34 L283.5,325.28 L285.5,325.23 L287.5,325.17 L289.5,325.11 L291.5,325.06 L293.5,325 L295.5,324.94 L297.5,324.89 L299.5,324.83 L301.5,324.78 L303.5,324.72 L305.5,324.67 L307.5,324.62 L309.5,324.56 L311.5,324.51 L313.5,324.46 L315.5,324.4 L317.5,324.35 L319.5,324.29 L321.5,324.24 L323.5,324.19 L325.5,324.14 L327.5,324.08 L329.5,324.03 L331.5,323.98 L333.5,323.92 L335.5,323.87 L337.5,323.81 L339.5,323.75 L341.5,323.69 L343.5,323.63 L345.5,323.57 L347.5,323.49 L349.5,323.41 L351.5,323.29 L353.5,323.14 L355.5,322.96 L356,322.9 L356.5,322.85 L357,322.78 L357.5,322.72 L358,322.65 L358.5,322.57 L359,322.48 L359.5,322.39 L360,322.28 L360.5,322.17 L361,322.04 L361.5,321.89 L362,321.72 L362.5,321.54 L363,321.33 L363.5,321.09 L364,320.81 L364.5,320.48 L365,320.1 L365.5,319.65 L366,319.11 L366.5,318.49 L367,317.74 L367.5,316.85 L368,315.8 L368.5,314.54 L369,313.04 L369.5,311.27 L370,309.17 L370.5,306.71 L371,303.86 L371.5,300.61 L372,296.99 L372.5,293.06 L373,288.97 L373.5,284.92 L374,281.2 L374.5,278.12 L375,276 L375.5,275.09 L376,275.31 L376.5,276.31 L377,277.99 L377.5,280.24 L378,282.93 L378.5,285.91 L379,289.03 L379.5,292.18 L380,295.24 L380.5,298.16 L381,300.88 L381.5,303.37 L382,305.62 L382.5,307.64 L383,309.43 L383.5,311.02 L384,312.41 L384.5,313.63 L385,314.7 L385.5,315.63 L386,316.44 L386.5,317.15 L387,317.77 L387.5,318.31 L388,318.78 L388.5,319.19 L389,319.56 L389.5,319.87 L390,320.15 L390.5,320.4 L391,320.62 L391.5,320.81 L392,320.98 L392.5,321.13 L393,321.27 L393.5,321.39 L394,321.5 L394.5,321.59 L395,321.68 L395.5,321.76 L396,321.83 L396.5,321.89 L397,321.95 L397.5,322 L398,322.04 L398.5,322.09 L399,322.12 L399.5,322.16 L400,322.19 L402,322.29 L404,322.37 L406,322.42 L408,322.46 L410,322.49 L412,322.51 L414,322.53 L416,322.54 L418,322.55 L420,322.56 L422,322.56 L424,322.57 L426,322.57 L428,322.58 L430,322.58 L432,322.58 L434,322.59 L436,322.59 L438,322.59 L440,322.59 L442,322.59 L444,322.59 L446,322.59 L448,322.59 L450,322.59 L452,322.59" fill="none" stroke="#008000" stroke-width="2.3" stroke-linejoin="round" stroke-linecap="round" />
<path d="M275.5,331.8 L277.5,331.53 L279.5,331.26 L281.5,330.99 L283.5,330.71 L285.5,330.44 L287.5,330.17 L289.5,329.9 L291.5,329.63 L293.5,329.36 L295.5,329.09 L297.5,328.84 L299.5,328.67 L301.5,328.5 L303.5,328.33 L305.5,328.16 L307.5,327.99 L309.5,327.82 L311.5,327.65 L313.5,327.48 L315.5,327.31 L317.5,327.14 L319.5,327 L321.5,326.9 L323.5,326.8 L325.5,326.71 L327.5,326.61 L329.5,326.51 L331.5,326.41 L333.5,326.3 L335.5,326.2 L337.5,326.09 L339.5,325.98 L341.5,325.81 L343.5,325.63 L345.5,325.43 L347.5,325.22 L349.5,324.99 L351.5,324.61 L353.5,324.15 L355.5,323.6 L356,323.44 L356.5,323.27 L357,323.09 L357.5,322.9 L358,322.69 L358.5,322.47 L359,322.22 L359.5,321.96 L360,321.66 L360.5,321.33 L361,320.97 L361.5,320.55 L362,320.08 L362.5,319.55 L363,318.94 L363.5,318.23 L364,317.42 L364.5,316.51 L365,315.44 L365.5,314.18 L366,312.7 L366.5,310.94 L367,308.86 L367.5,306.38 L368,303.42 L368.5,299.9 L369,295.7 L369.5,290.73 L370,284.84 L370.5,277.95 L371,269.96 L371.5,260.85 L372,250.68 L372.5,239.66 L373,228.18 L373.5,216.83 L374,206.39 L374.5,197.76 L375,191.82 L375.5,189.27 L376,189.89 L376.5,192.68 L377,197.39 L377.5,203.72 L378,211.27 L378.5,219.63 L379,228.39 L379.5,237.22 L380,245.83 L380.5,254.01 L381,261.64 L381.5,268.63 L382,274.95 L382.5,280.62 L383,285.65 L383.5,290.09 L384,294 L384.5,297.42 L385,300.42 L385.5,303.03 L386,305.31 L386.5,307.3 L387,309.04 L387.5,310.55 L388,311.88 L388.5,313.04 L389,314.06 L389.5,314.95 L390,315.74 L390.5,316.43 L391,317.04 L391.5,317.58 L392,318.06 L392.5,318.49 L393,318.86 L393.5,319.2 L394,319.5 L394.5,319.77 L395,320.02 L395.5,320.23 L396,320.43 L396.5,320.61 L397,320.77 L397.5,320.91 L398,321.04 L398.5,321.16 L399,321.27 L399.5,321.36 L400,321.45 L402,321.74 L404,321.94 L406,322.09 L408,322.2 L410,322.28 L412,322.34 L414,322.39 L416,322.43 L418,322.46 L420,322.48 L422,322.5 L424,322.51 L426,322.53 L428,322.54 L430,322.55 L432,322.55 L434,322.56 L436,322.56 L438,322.57 L440,322.57 L442,322.58 L444,322.58 L446,322.58 L448,322.58 L450,322.58 L452,322.59" fill="none" stroke="#10109c" stroke-width="2.3" stroke-linejoin="round" stroke-linecap="round" />
</g>
<line x1="275.5" y1="2.95" x2="275.5" y2="171.05" stroke="#111" stroke-width="1.1"/>
<line x1="452.5" y1="2.95" x2="452.5" y2="171.05" stroke="#111" stroke-width="1.1"/>
<line x1="275.5" y1="3.5" x2="452.5" y2="3.5" stroke="#111" stroke-width="1.1"/>
<line x1="275.5" y1="170.5" x2="452.5" y2="170.5" stroke="#111" stroke-width="1.1"/>
<line x1="275.5" y1="169.95" x2="275.5" y2="337.05" stroke="#111" stroke-width="1.1"/>
<line x1="452.5" y1="169.95" x2="452.5" y2="337.05" stroke="#111" stroke-width="1.1"/>
<line x1="275.5" y1="336.5" x2="452.5" y2="336.5" stroke="#111" stroke-width="1.1"/>
<line x1="275.5" y1="170.5" x2="275.5" y2="166.5" stroke="#111" stroke-width="1.0"/>
<line x1="275.5" y1="336.5" x2="275.5" y2="332.5" stroke="#111" stroke-width="1.0"/>
<text transform="translate(275.5 351.2) scale(1.07 1)" font-size="12" text-anchor="middle" fill="#000" font-family="Liberation Sans, sans-serif" font-weight="bold" >0.2</text>
<line x1="293.2" y1="170.5" x2="293.2" y2="168.5" stroke="#111" stroke-width="1.0"/>
<line x1="293.2" y1="336.5" x2="293.2" y2="334.5" stroke="#111" stroke-width="1.0"/>
<line x1="310.9" y1="170.5" x2="310.9" y2="166.5" stroke="#111" stroke-width="1.0"/>
<line x1="310.9" y1="336.5" x2="310.9" y2="332.5" stroke="#111" stroke-width="1.0"/>
<text transform="translate(310.9 351.2) scale(1.07 1)" font-size="12" text-anchor="middle" fill="#000" font-family="Liberation Sans, sans-serif" font-weight="bold" >0.4</text>
<line x1="328.6" y1="170.5" x2="328.6" y2="168.5" stroke="#111" stroke-width="1.0"/>
<line x1="328.6" y1="336.5" x2="328.6" y2="334.5" stroke="#111" stroke-width="1.0"/>
<line x1="346.3" y1="170.5" x2="346.3" y2="166.5" stroke="#111" stroke-width="1.0"/>
<line x1="346.3" y1="336.5" x2="346.3" y2="332.5" stroke="#111" stroke-width="1.0"/>
<text transform="translate(346.3 351.2) scale(1.07 1)" font-size="12" text-anchor="middle" fill="#000" font-family="Liberation Sans, sans-serif" font-weight="bold" >0.6</text>
<line x1="364" y1="170.5" x2="364" y2="168.5" stroke="#111" stroke-width="1.0"/>
<line x1="364" y1="336.5" x2="364" y2="334.5" stroke="#111" stroke-width="1.0"/>
<line x1="381.7" y1="170.5" x2="381.7" y2="166.5" stroke="#111" stroke-width="1.0"/>
<line x1="381.7" y1="336.5" x2="381.7" y2="332.5" stroke="#111" stroke-width="1.0"/>
<text transform="translate(381.7 351.2) scale(1.07 1)" font-size="12" text-anchor="middle" fill="#000" font-family="Liberation Sans, sans-serif" font-weight="bold" >0.8</text>
<line x1="399.4" y1="170.5" x2="399.4" y2="168.5" stroke="#111" stroke-width="1.0"/>
<line x1="399.4" y1="336.5" x2="399.4" y2="334.5" stroke="#111" stroke-width="1.0"/>
<line x1="417.1" y1="170.5" x2="417.1" y2="166.5" stroke="#111" stroke-width="1.0"/>
<line x1="417.1" y1="336.5" x2="417.1" y2="332.5" stroke="#111" stroke-width="1.0"/>
<text transform="translate(417.1 351.2) scale(1.07 1)" font-size="12" text-anchor="middle" fill="#000" font-family="Liberation Sans, sans-serif" font-weight="bold" >1.0</text>
<line x1="434.8" y1="170.5" x2="434.8" y2="168.5" stroke="#111" stroke-width="1.0"/>
<line x1="434.8" y1="336.5" x2="434.8" y2="334.5" stroke="#111" stroke-width="1.0"/>
<line x1="452.5" y1="170.5" x2="452.5" y2="166.5" stroke="#111" stroke-width="1.0"/>
<line x1="452.5" y1="336.5" x2="452.5" y2="332.5" stroke="#111" stroke-width="1.0"/>
<text transform="translate(452.5 351.2) scale(1.07 1)" font-size="12" text-anchor="middle" fill="#000" font-family="Liberation Sans, sans-serif" font-weight="bold" >1.2</text>
<line x1="275.5" y1="152.3" x2="279.5" y2="152.3" stroke="#111" stroke-width="1.0"/>
<text transform="translate(270.2 155.9) scale(1.07 1)" font-size="12" text-anchor="end" fill="#000" font-family="Liberation Sans, sans-serif" font-weight="bold" >0.0</text>
<line x1="275.5" y1="322.6" x2="279.5" y2="322.6" stroke="#111" stroke-width="1.0"/>
<text transform="translate(270.2 326.4) scale(1.07 1)" font-size="12" text-anchor="end" fill="#000" font-family="Liberation Sans, sans-serif" font-weight="bold" >0.0</text>
<line x1="275.5" y1="105.7" x2="279.5" y2="105.7" stroke="#111" stroke-width="1.0"/>
<text transform="translate(270.2 109.3) scale(1.07 1)" font-size="12" text-anchor="end" fill="#000" font-family="Liberation Sans, sans-serif" font-weight="bold" >0.5</text>
<line x1="275.5" y1="284.27" x2="279.5" y2="284.27" stroke="#111" stroke-width="1.0"/>
<text transform="translate(270.2 288.07) scale(1.07 1)" font-size="12" text-anchor="end" fill="#000" font-family="Liberation Sans, sans-serif" font-weight="bold" >0.5</text>
<line x1="275.5" y1="59.1" x2="279.5" y2="59.1" stroke="#111" stroke-width="1.0"/>
<text transform="translate(270.2 62.7) scale(1.07 1)" font-size="12" text-anchor="end" fill="#000" font-family="Liberation Sans, sans-serif" font-weight="bold" >1.0</text>
<line x1="275.5" y1="245.93" x2="279.5" y2="245.93" stroke="#111" stroke-width="1.0"/>
<text transform="translate(270.2 249.73) scale(1.07 1)" font-size="12" text-anchor="end" fill="#000" font-family="Liberation Sans, sans-serif" font-weight="bold" >1.0</text>
<line x1="275.5" y1="12.5" x2="279.5" y2="12.5" stroke="#111" stroke-width="1.0"/>
<text transform="translate(270.2 16.1) scale(1.07 1)" font-size="12" text-anchor="end" fill="#000" font-family="Liberation Sans, sans-serif" font-weight="bold" >1.5</text>
<line x1="275.5" y1="207.6" x2="279.5" y2="207.6" stroke="#111" stroke-width="1.0"/>
<text transform="translate(270.2 211.4) scale(1.07 1)" font-size="12" text-anchor="end" fill="#000" font-family="Liberation Sans, sans-serif" font-weight="bold" >1.5</text>
<line x1="275.5" y1="129" x2="277.5" y2="129" stroke="#111" stroke-width="1.0"/>
<line x1="275.5" y1="82.4" x2="277.5" y2="82.4" stroke="#111" stroke-width="1.0"/>
<line x1="275.5" y1="35.8" x2="277.5" y2="35.8" stroke="#111" stroke-width="1.0"/>
<line x1="275.5" y1="303.43" x2="277.5" y2="303.43" stroke="#111" stroke-width="1.0"/>
<line x1="275.5" y1="265.1" x2="277.5" y2="265.1" stroke="#111" stroke-width="1.0"/>
<line x1="275.5" y1="226.76" x2="277.5" y2="226.76" stroke="#111" stroke-width="1.0"/>
<line x1="275.5" y1="188.43" x2="277.5" y2="188.43" stroke="#111" stroke-width="1.0"/>
<text transform="translate(370.85 374) scale(1.04 1)" font-size="16.8" text-anchor="middle" fill="#000" font-family="Liberation Sans, sans-serif" font-weight="bold" >Frequency (THz)</text>
<text x="290" y="22.6" font-size="15.6" text-anchor="start" fill="#000" font-family="Liberation Sans, sans-serif" font-weight="bold" >Experiment</text>
<text x="289.5" y="193.4" font-size="15.5" text-anchor="start" fill="#000" font-family="Liberation Sans, sans-serif" font-weight="bold" >Theory</text>
<text x="431" y="26.3" font-size="22.5" text-anchor="start" fill="#000" font-family="Liberation Sans, sans-serif" font-weight="bold" >b</text>
<text x="431" y="195.3" font-size="22.5" text-anchor="start" fill="#000" font-family="Liberation Sans, sans-serif" font-weight="bold" >c</text>
<text x="307" y="51.3" font-size="10.2" text-anchor="start" fill="#000" font-family="Liberation Sans, sans-serif" font-weight="bold" >V</text>
<text x="314.2" y="55.4" font-size="6.8" text-anchor="start" fill="#000" font-family="Liberation Sans, sans-serif" font-weight="bold" >G</text>
<text x="320" y="50.8" font-size="10" text-anchor="start" fill="#000" font-family="Liberation Sans, sans-serif" font-weight="bold" >=</text>
<line x1="290.5" y1="63.3" x2="316.3" y2="63.3" stroke="#000000" stroke-width="2.6"/>
<text x="319.3" y="67.4" font-size="11" text-anchor="start" fill="#000" font-family="Liberation Sans, sans-serif" font-weight="bold" >4V</text>
<line x1="290.5" y1="76.72" x2="316.3" y2="76.72" stroke="#ff0000" stroke-width="2.6"/>
<text x="319.3" y="80.82" font-size="11" text-anchor="start" fill="#000" font-family="Liberation Sans, sans-serif" font-weight="bold" >8V</text>
<line x1="290.5" y1="90.14" x2="316.3" y2="90.14" stroke="#0000ff" stroke-width="2.6"/>
<text x="319.3" y="94.24" font-size="11" text-anchor="start" fill="#000" font-family="Liberation Sans, sans-serif" font-weight="bold" >12V</text>
<line x1="290.5" y1="103.56" x2="316.3" y2="103.56" stroke="#ff00ff" stroke-width="2.6"/>
<text x="319.3" y="107.66" font-size="11" text-anchor="start" fill="#000" font-family="Liberation Sans, sans-serif" font-weight="bold" >16V</text>
<line x1="290.5" y1="116.98" x2="316.3" y2="116.98" stroke="#008000" stroke-width="2.6"/>
<text x="319.3" y="121.08" font-size="11" text-anchor="start" fill="#000" font-family="Liberation Sans, sans-serif" font-weight="bold" >20V</text>
<line x1="290.5" y1="130.4" x2="316.3" y2="130.4" stroke="#000080" stroke-width="2.6"/>
<text x="319.3" y="134.5" font-size="11" text-anchor="start" fill="#000" font-family="Liberation Sans, sans-serif" font-weight="bold" >24V</text>
<text x="245.8" y="156" font-size="14" text-anchor="middle" font-family="Liberation Sans, sans-serif" font-weight="bold" transform="rotate(-90 245.8 156)">(<tspan font-style="italic">T</tspan> - <tspan font-style="italic">T</tspan><tspan font-size="10" dy="4.3">0</tspan><tspan dy="-4.3">) / </tspan><tspan font-style="italic">T</tspan><tspan font-size="10" dy="4.3">0</tspan></text>
<rect x="504.7" y="3.5" width="148.59999999999997" height="333.0" fill="#fef0f6"/>
<rect x="653.3" y="3.5" width="28.5" height="333.0" fill="#eaeff3"/>
<defs><radialGradient id="ball" cx="0.38" cy="0.35" r="0.65"><stop offset="0" stop-color="#ffffff"/><stop offset="0.25" stop-color="#ff6060"/><stop offset="0.6" stop-color="#ee0000"/><stop offset="1" stop-color="#c00000"/></radialGradient></defs>
<clipPath id="clipD"><rect x="504.7" y="3.5" width="177.09999999999997" height="333.0"/></clipPath>
<g clip-path="url(#clipD)">
<path d="M504.7,320.4 C508.08,320.38 517.82,320.35 525,320.3 C532.18,320.25 541.97,320.22 547.8,320.1 C553.63,319.98 556.35,319.83 560,319.6 C563.65,319.37 566.87,318.98 569.7,318.7 C572.53,318.42 574.57,318.22 577,317.9 C579.43,317.58 581.63,317.28 584.3,316.8 C586.97,316.32 590.52,315.58 593,315 C595.48,314.42 597.37,313.85 599.2,313.3 C601.03,312.75 602.42,312.28 604,311.7 C605.58,311.12 607.2,310.47 608.7,309.8 C610.2,309.13 611.48,308.58 613,307.7 C614.52,306.82 616.37,305.75 617.8,304.5 C619.23,303.25 620.37,301.87 621.6,300.2 C622.83,298.53 624.15,296.53 625.2,294.5 C626.25,292.47 627.13,290.33 627.9,288 C628.67,285.67 629.18,283.08 629.8,280.5 C630.42,277.92 631,275.08 631.6,272.5 C632.2,269.92 632.55,268.75 633.4,265 C634.25,261.25 635.62,255 636.7,250 C637.78,245 639.07,238.9 639.9,235 C640.73,231.1 641.13,229.67 641.7,226.6 C642.27,223.53 642.75,219.93 643.3,216.6 C643.85,213.27 644.45,209.93 645,206.6 C645.55,203.27 646.05,199.93 646.6,196.6 C647.15,193.27 647.75,189.93 648.3,186.6 C648.85,183.27 649.35,179.93 649.9,176.6 C650.45,173.27 651.05,169.93 651.6,166.6 C652.15,163.27 652.65,159.93 653.2,156.6 C653.75,153.27 654.33,149.93 654.9,146.6 C655.47,143.27 656.02,139.93 656.6,136.6 C657.18,133.27 657.8,129.93 658.4,126.6 C659,123.27 659.58,119.93 660.2,116.6 C660.82,113.27 661.47,109.93 662.1,106.6 C662.73,103.27 663.37,99.93 664,96.6 C664.63,93.27 665.23,89.93 665.9,86.6 C666.57,83.27 667.3,79.93 668,76.6 C668.7,73.27 669.38,69.93 670.1,66.6 C670.82,63.27 671.57,59.93 672.3,56.6 C673.03,53.27 673.75,49.93 674.5,46.6 C675.25,43.27 676.03,39.93 676.8,36.6 C677.57,33.27 678.72,28.27 679.1,26.6" fill="none" stroke="#000" stroke-width="2.6" stroke-linejoin="round" stroke-linecap="round" />
<circle cx="510.1" cy="318.6" r="4.6" fill="url(#ball)"/>
<circle cx="532.6" cy="317.5" r="4.6" fill="url(#ball)"/>
<circle cx="563.6" cy="316.5" r="4.6" fill="url(#ball)"/>
<circle cx="593" cy="314.2" r="4.6" fill="url(#ball)"/>
<circle cx="614.3" cy="311.1" r="4.6" fill="url(#ball)"/>
<circle cx="626" cy="298.3" r="4.6" fill="url(#ball)"/>
</g>
<line x1="504.7" y1="2.95" x2="504.7" y2="337.05" stroke="#111" stroke-width="1.1"/>
<line x1="681.8" y1="2.95" x2="681.8" y2="337.05" stroke="#111" stroke-width="1.1"/>
<line x1="504.7" y1="3.5" x2="681.8" y2="3.5" stroke="#111" stroke-width="1.1"/>
<line x1="504.7" y1="336.5" x2="681.8" y2="336.5" stroke="#111" stroke-width="1.1"/>
<line x1="504.7" y1="336.5" x2="504.7" y2="332.5" stroke="#111" stroke-width="1.0"/>
<line x1="512.71" y1="336.5" x2="512.71" y2="334.5" stroke="#111" stroke-width="1.0"/>
<line x1="517.39" y1="336.5" x2="517.39" y2="334.5" stroke="#111" stroke-width="1.0"/>
<line x1="520.71" y1="336.5" x2="520.71" y2="334.5" stroke="#111" stroke-width="1.0"/>
<line x1="523.29" y1="336.5" x2="523.29" y2="334.5" stroke="#111" stroke-width="1.0"/>
<line x1="525.4" y1="336.5" x2="525.4" y2="334.5" stroke="#111" stroke-width="1.0"/>
<line x1="527.18" y1="336.5" x2="527.18" y2="334.5" stroke="#111" stroke-width="1.0"/>
<line x1="528.72" y1="336.5" x2="528.72" y2="334.5" stroke="#111" stroke-width="1.0"/>
<line x1="530.08" y1="336.5" x2="530.08" y2="334.5" stroke="#111" stroke-width="1.0"/>
<line x1="531.3" y1="336.5" x2="531.3" y2="332.5" stroke="#111" stroke-width="1.0"/>
<line x1="539.31" y1="336.5" x2="539.31" y2="334.5" stroke="#111" stroke-width="1.0"/>
<line x1="543.99" y1="336.5" x2="543.99" y2="334.5" stroke="#111" stroke-width="1.0"/>
<line x1="547.31" y1="336.5" x2="547.31" y2="334.5" stroke="#111" stroke-width="1.0"/>
<line x1="549.89" y1="336.5" x2="549.89" y2="334.5" stroke="#111" stroke-width="1.0"/>
<line x1="552" y1="336.5" x2="552" y2="334.5" stroke="#111" stroke-width="1.0"/>
<line x1="553.78" y1="336.5" x2="553.78" y2="334.5" stroke="#111" stroke-width="1.0"/>
<line x1="555.32" y1="336.5" x2="555.32" y2="334.5" stroke="#111" stroke-width="1.0"/>
<line x1="556.68" y1="336.5" x2="556.68" y2="334.5" stroke="#111" stroke-width="1.0"/>
<line x1="557.9" y1="336.5" x2="557.9" y2="332.5" stroke="#111" stroke-width="1.0"/>
<line x1="565.91" y1="336.5" x2="565.91" y2="334.5" stroke="#111" stroke-width="1.0"/>
<line x1="570.59" y1="336.5" x2="570.59" y2="334.5" stroke="#111" stroke-width="1.0"/>
<line x1="573.91" y1="336.5" x2="573.91" y2="334.5" stroke="#111" stroke-width="1.0"/>
<line x1="576.49" y1="336.5" x2="576.49" y2="334.5" stroke="#111" stroke-width="1.0"/>
<line x1="578.6" y1="336.5" x2="578.6" y2="334.5" stroke="#111" stroke-width="1.0"/>
<line x1="580.38" y1="336.5" x2="580.38" y2="334.5" stroke="#111" stroke-width="1.0"/>
<line x1="581.92" y1="336.5" x2="581.92" y2="334.5" stroke="#111" stroke-width="1.0"/>
<line x1="583.28" y1="336.5" x2="583.28" y2="334.5" stroke="#111" stroke-width="1.0"/>
<line x1="584.5" y1="336.5" x2="584.5" y2="332.5" stroke="#111" stroke-width="1.0"/>
<line x1="592.51" y1="336.5" x2="592.51" y2="334.5" stroke="#111" stroke-width="1.0"/>
<line x1="597.19" y1="336.5" x2="597.19" y2="334.5" stroke="#111" stroke-width="1.0"/>
<line x1="600.51" y1="336.5" x2="600.51" y2="334.5" stroke="#111" stroke-width="1.0"/>
<line x1="603.09" y1="336.5" x2="603.09" y2="334.5" stroke="#111" stroke-width="1.0"/>
<line x1="605.2" y1="336.5" x2="605.2" y2="334.5" stroke="#111" stroke-width="1.0"/>
<line x1="606.98" y1="336.5" x2="606.98" y2="334.5" stroke="#111" stroke-width="1.0"/>
<line x1="608.52" y1="336.5" x2="608.52" y2="334.5" stroke="#111" stroke-width="1.0"/>
<line x1="609.88" y1="336.5" x2="609.88" y2="334.5" stroke="#111" stroke-width="1.0"/>
<line x1="611.1" y1="336.5" x2="611.1" y2="332.5" stroke="#111" stroke-width="1.0"/>
<line x1="619.11" y1="336.5" x2="619.11" y2="334.5" stroke="#111" stroke-width="1.0"/>
<line x1="623.79" y1="336.5" x2="623.79" y2="334.5" stroke="#111" stroke-width="1.0"/>
<line x1="627.11" y1="336.5" x2="627.11" y2="334.5" stroke="#111" stroke-width="1.0"/>
<line x1="629.69" y1="336.5" x2="629.69" y2="334.5" stroke="#111" stroke-width="1.0"/>
<line x1="631.8" y1="336.5" x2="631.8" y2="334.5" stroke="#111" stroke-width="1.0"/>
<line x1="633.58" y1="336.5" x2="633.58" y2="334.5" stroke="#111" stroke-width="1.0"/>
<line x1="635.12" y1="336.5" x2="635.12" y2="334.5" stroke="#111" stroke-width="1.0"/>
<line x1="636.48" y1="336.5" x2="636.48" y2="334.5" stroke="#111" stroke-width="1.0"/>
<line x1="637.7" y1="336.5" x2="637.7" y2="332.5" stroke="#111" stroke-width="1.0"/>
<line x1="645.71" y1="336.5" x2="645.71" y2="334.5" stroke="#111" stroke-width="1.0"/>
<line x1="650.39" y1="336.5" x2="650.39" y2="334.5" stroke="#111" stroke-width="1.0"/>
<line x1="653.71" y1="336.5" x2="653.71" y2="334.5" stroke="#111" stroke-width="1.0"/>
<line x1="656.29" y1="336.5" x2="656.29" y2="334.5" stroke="#111" stroke-width="1.0"/>
<line x1="658.4" y1="336.5" x2="658.4" y2="334.5" stroke="#111" stroke-width="1.0"/>
<line x1="660.18" y1="336.5" x2="660.18" y2="334.5" stroke="#111" stroke-width="1.0"/>
<line x1="661.72" y1="336.5" x2="661.72" y2="334.5" stroke="#111" stroke-width="1.0"/>
<line x1="663.08" y1="336.5" x2="663.08" y2="334.5" stroke="#111" stroke-width="1.0"/>
<line x1="664.3" y1="336.5" x2="664.3" y2="332.5" stroke="#111" stroke-width="1.0"/>
<line x1="672.31" y1="336.5" x2="672.31" y2="334.5" stroke="#111" stroke-width="1.0"/>
<line x1="676.99" y1="336.5" x2="676.99" y2="334.5" stroke="#111" stroke-width="1.0"/>
<line x1="680.31" y1="336.5" x2="680.31" y2="334.5" stroke="#111" stroke-width="1.0"/>
<line x1="504.7" y1="320.8" x2="508.7" y2="320.8" stroke="#111" stroke-width="1.0"/>
<text transform="translate(500.1 325) scale(1.07 1)" font-size="12" text-anchor="end" fill="#000" font-family="Liberation Sans, sans-serif" font-weight="bold" >0</text>
<line x1="504.7" y1="304.08" x2="506.7" y2="304.08" stroke="#111" stroke-width="1.0"/>
<line x1="504.7" y1="287.36" x2="508.7" y2="287.36" stroke="#111" stroke-width="1.0"/>
<text transform="translate(500.1 291.56) scale(1.07 1)" font-size="12" text-anchor="end" fill="#000" font-family="Liberation Sans, sans-serif" font-weight="bold" >2</text>
<line x1="504.7" y1="270.64" x2="506.7" y2="270.64" stroke="#111" stroke-width="1.0"/>
<line x1="504.7" y1="253.92" x2="508.7" y2="253.92" stroke="#111" stroke-width="1.0"/>
<text transform="translate(500.1 258.12) scale(1.07 1)" font-size="12" text-anchor="end" fill="#000" font-family="Liberation Sans, sans-serif" font-weight="bold" >4</text>
<line x1="504.7" y1="237.2" x2="506.7" y2="237.2" stroke="#111" stroke-width="1.0"/>
<line x1="504.7" y1="220.48" x2="508.7" y2="220.48" stroke="#111" stroke-width="1.0"/>
<text transform="translate(500.1 224.68) scale(1.07 1)" font-size="12" text-anchor="end" fill="#000" font-family="Liberation Sans, sans-serif" font-weight="bold" >6</text>
<line x1="504.7" y1="203.76" x2="506.7" y2="203.76" stroke="#111" stroke-width="1.0"/>
<line x1="504.7" y1="187.04" x2="508.7" y2="187.04" stroke="#111" stroke-width="1.0"/>
<text transform="translate(500.1 191.24) scale(1.07 1)" font-size="12" text-anchor="end" fill="#000" font-family="Liberation Sans, sans-serif" font-weight="bold" >8</text>
<line x1="504.7" y1="170.32" x2="506.7" y2="170.32" stroke="#111" stroke-width="1.0"/>
<line x1="504.7" y1="153.6" x2="508.7" y2="153.6" stroke="#111" stroke-width="1.0"/>
<text transform="translate(500.1 157.8) scale(1.07 1)" font-size="12" text-anchor="end" fill="#000" font-family="Liberation Sans, sans-serif" font-weight="bold" >10</text>
<line x1="504.7" y1="136.88" x2="506.7" y2="136.88" stroke="#111" stroke-width="1.0"/>
<line x1="504.7" y1="120.16" x2="508.7" y2="120.16" stroke="#111" stroke-width="1.0"/>
<text transform="translate(500.1 124.36) scale(1.07 1)" font-size="12" text-anchor="end" fill="#000" font-family="Liberation Sans, sans-serif" font-weight="bold" >12</text>
<line x1="504.7" y1="103.44" x2="506.7" y2="103.44" stroke="#111" stroke-width="1.0"/>
<line x1="504.7" y1="86.72" x2="508.7" y2="86.72" stroke="#111" stroke-width="1.0"/>
<text transform="translate(500.1 90.92) scale(1.07 1)" font-size="12" text-anchor="end" fill="#000" font-family="Liberation Sans, sans-serif" font-weight="bold" >14</text>
<line x1="504.7" y1="70" x2="506.7" y2="70" stroke="#111" stroke-width="1.0"/>
<line x1="504.7" y1="53.28" x2="508.7" y2="53.28" stroke="#111" stroke-width="1.0"/>
<text transform="translate(500.1 57.48) scale(1.07 1)" font-size="12" text-anchor="end" fill="#000" font-family="Liberation Sans, sans-serif" font-weight="bold" >16</text>
<line x1="504.7" y1="36.56" x2="506.7" y2="36.56" stroke="#111" stroke-width="1.0"/>
<line x1="504.7" y1="19.84" x2="508.7" y2="19.84" stroke="#111" stroke-width="1.0"/>
<text transform="translate(500.1 24.04) scale(1.07 1)" font-size="12" text-anchor="end" fill="#000" font-family="Liberation Sans, sans-serif" font-weight="bold" >18</text>
<text transform="translate(493.7 354.2) scale(1.07 1)" font-size="12" text-anchor="start" fill="#000" font-family="Liberation Sans, sans-serif" font-weight="bold" >10</text>
<text transform="translate(508.5 348) scale(1.07 1)" font-size="7.5" text-anchor="start" fill="#000" font-family="Liberation Sans, sans-serif" font-weight="bold" >-3</text>
<text transform="translate(546.9 354.2) scale(1.07 1)" font-size="12" text-anchor="start" fill="#000" font-family="Liberation Sans, sans-serif" font-weight="bold" >10</text>
<text transform="translate(561.7 348) scale(1.07 1)" font-size="7.5" text-anchor="start" fill="#000" font-family="Liberation Sans, sans-serif" font-weight="bold" >-1</text>
<text transform="translate(600.1 354.2) scale(1.07 1)" font-size="12" text-anchor="start" fill="#000" font-family="Liberation Sans, sans-serif" font-weight="bold" >10</text>
<text transform="translate(615.5 348) scale(1.07 1)" font-size="7.5" text-anchor="start" fill="#000" font-family="Liberation Sans, sans-serif" font-weight="bold" >1</text>
<text transform="translate(653.3 354.2) scale(1.07 1)" font-size="12" text-anchor="start" fill="#000" font-family="Liberation Sans, sans-serif" font-weight="bold" >10</text>
<text transform="translate(668.7 348) scale(1.07 1)" font-size="7.5" text-anchor="start" fill="#000" font-family="Liberation Sans, sans-serif" font-weight="bold" >3</text>
<text transform="translate(512 373.2) scale(1.02 1)" font-size="17" font-family="Liberation Sans, sans-serif" font-weight="bold">Conductivity (S m<tspan font-size="10" dy="-7.5">-1</tspan><tspan dy="7.5">)</tspan></text>
<text x="514.5" y="25.3" font-size="22.5" text-anchor="start" fill="#000" font-family="Liberation Sans, sans-serif" font-weight="bold" >d</text>
<line x1="522.9" y1="92.3" x2="552.7" y2="92.3" stroke="#000" stroke-width="2.7"/>
<text x="557.6" y="97" font-size="13.3" text-anchor="start" fill="#000" font-family="Liberation Sans, sans-serif" font-weight="bold" >Theory</text>
<circle cx="537.8" cy="107.7" r="4.6" fill="url(#ball)"/>
<text x="557.6" y="112.4" font-size="13.3" text-anchor="start" fill="#000" font-family="Liberation Sans, sans-serif" font-weight="bold" >Experiment</text>
<text x="549.8" y="239.5" font-size="15.6" text-anchor="start" fill="#dc141e" font-family="Liberation Sans, sans-serif" font-weight="bold" >IGZO</text>
<text x="651.6" y="239.5" font-size="15.6" text-anchor="start" fill="#275a6b" font-family="Liberation Sans, sans-serif" font-weight="bold" >IZO</text>
<text x="476.3" y="152.3" font-size="14" text-anchor="middle" font-family="Liberation Sans, sans-serif" font-weight="bold" transform="rotate(-90 476.3 152.3)">(<tspan font-style="italic">T</tspan> - <tspan font-style="italic">T</tspan><tspan font-size="10" dy="4.3">0</tspan><tspan dy="-4.3">) / </tspan><tspan font-style="italic">T</tspan><tspan font-size="10" dy="4.3">0</tspan></text>
</svg>
</body></html>
